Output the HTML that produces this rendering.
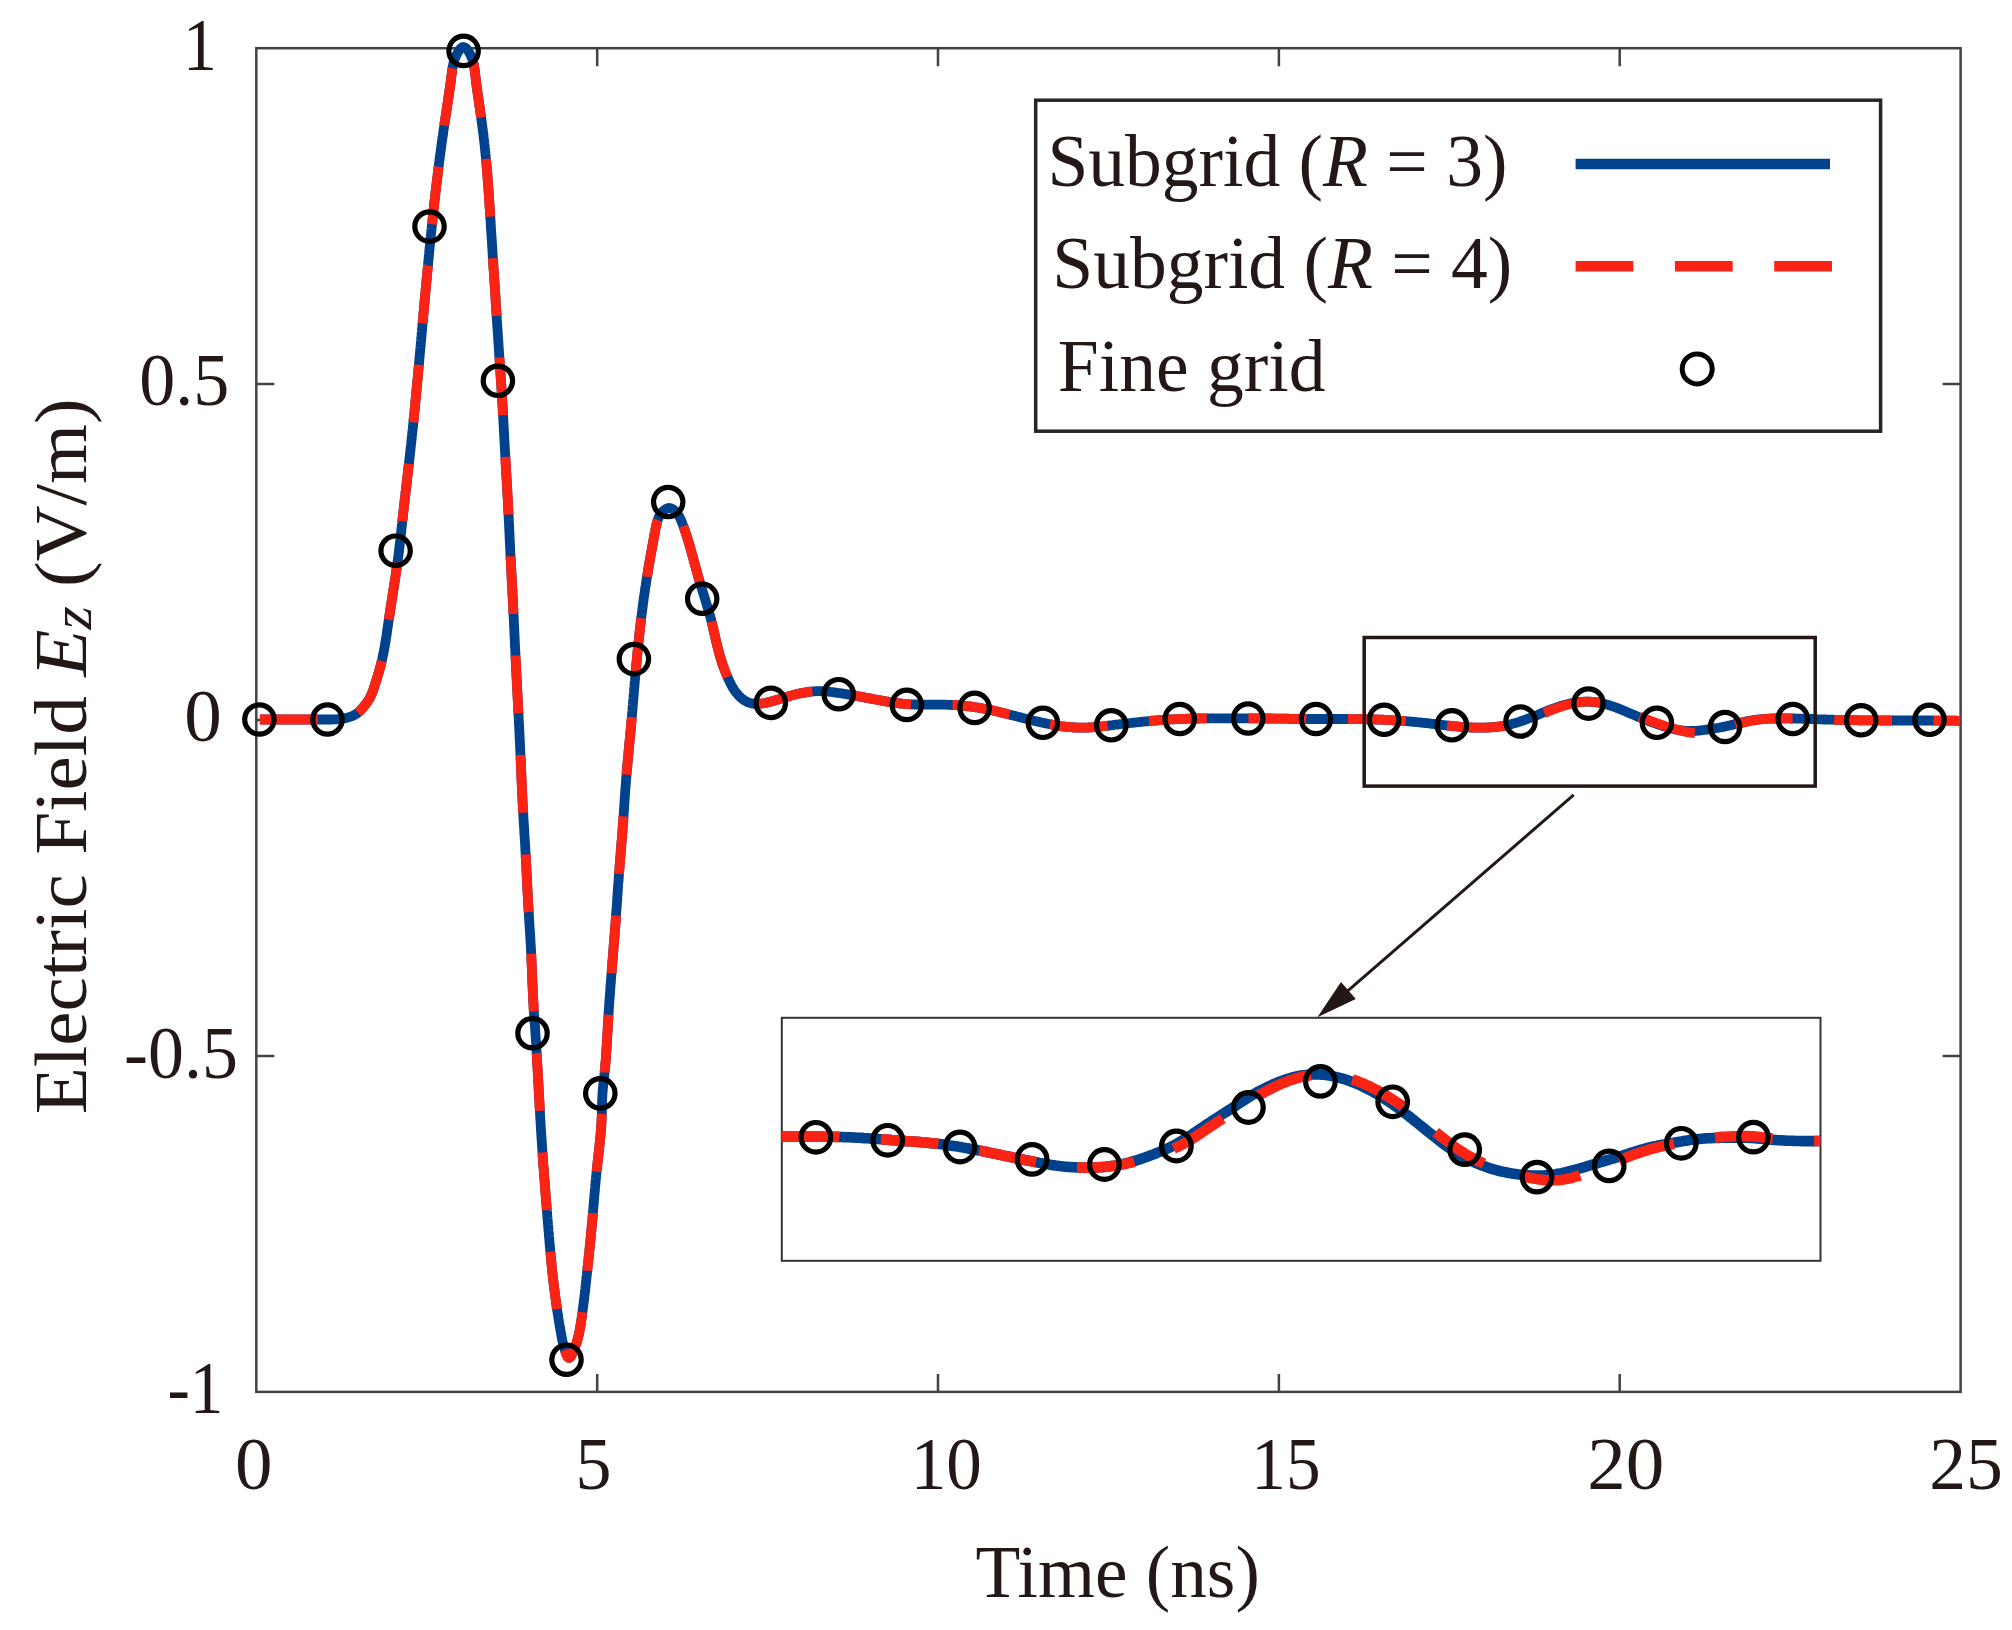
<!DOCTYPE html>
<html lang="en"><head><meta charset="utf-8"><title>Electric Field Ez vs Time</title>
<style>
html,body{margin:0;padding:0;background:#fff;}
body{width:2012px;height:1630px;overflow:hidden;}
svg{display:block;}
text{font-family:"Liberation Serif","Times New Roman",serif;fill:#231815;}
.it{font-style:italic;}
</style></head><body>
<svg width="2012" height="1630" viewBox="0 0 2012 1630">
<rect width="2012" height="1630" fill="#fff"/>

<rect x="256.3" y="48.2" width="1704.3" height="1343.7" fill="none" stroke="#424242" stroke-width="2.5"/>
<path d="M597.2,1391.9 v-18 M597.2,48.2 v18 M938.0,1391.9 v-18 M938.0,48.2 v18 M1278.9,1391.9 v-18 M1278.9,48.2 v18 M1619.7,1391.9 v-18 M1619.7,48.2 v18 M256.3,384.1 h18 M1960.6,384.1 h-18 M256.3,720.05 h18 M1960.6,720.05 h-18 M256.3,1056.0 h18 M1960.6,1056.0 h-18" stroke="#424242" stroke-width="2.5" fill="none"/>
<clipPath id="cp"><rect x="256.3" y="0" width="1704.3" height="1630"/></clipPath>
<g clip-path="url(#cp)" fill="none" stroke-width="9.8" stroke-linejoin="round">
<path d="M259.9,719.5 L261.4,719.5 L262.9,719.5 L264.4,719.5 L265.9,719.5 L267.4,719.5 L268.9,719.5 L270.4,719.5 L271.9,719.5 L273.4,719.5 L274.9,719.5 L276.4,719.5 L277.9,719.5 L279.4,719.5 L280.9,719.5 L282.4,719.5 L283.9,719.5 L285.4,719.5 L286.9,719.5 L288.4,719.5 L289.9,719.5 L291.4,719.5 L292.9,719.5 L294.4,719.5 L295.9,719.5 L297.4,719.5 L298.9,719.5 L300.4,719.5 L301.9,719.5 L303.4,719.5 L304.9,719.5 L306.4,719.5 L307.9,719.5 L309.4,719.5 L310.9,719.5 L312.4,719.5 L313.9,719.5 L315.4,719.5 L316.9,719.5 L318.4,719.5 L319.9,719.5 L321.4,719.5 L322.9,719.5 L324.4,719.5 L325.9,719.5 L327.4,719.5 L328.9,719.5 L330.4,719.5 L331.9,719.5 L333.4,719.4 L334.9,719.4 L336.4,719.3 L337.9,719.2 L339.4,719.1 L340.9,718.9 L342.4,718.7 L343.8,718.4 L345.3,718.2 L346.8,717.8 L348.2,717.4 L349.7,717.0 L351.1,716.5 L352.5,715.9 L353.9,715.3 L355.2,714.5 L356.5,713.7 L357.7,712.9 L358.8,711.9 L359.9,710.9 L361.0,709.8 L362.0,708.7 L363.0,707.5 L363.9,706.4 L364.9,705.2 L365.8,704.0 L366.7,702.8 L367.6,701.6 L368.4,700.3 L369.2,699.1 L369.9,697.8 L370.6,696.4 L371.2,695.1 L371.8,693.7 L372.3,692.3 L372.9,690.9 L373.4,689.5 L373.9,688.0 L374.3,686.6 L374.8,685.2 L375.2,683.7 L375.7,682.3 L376.1,680.8 L376.6,679.4 L377.0,678.0 L377.5,676.5 L377.9,675.1 L378.3,673.7 L378.8,672.2 L379.2,670.8 L379.6,669.3 L380.0,667.9 L380.4,666.5 L380.8,665.0 L381.1,663.6 L381.5,662.1 L381.8,660.7 L382.2,659.2 L382.5,657.7 L382.8,656.3 L383.1,654.8 L383.4,653.3 L383.7,651.9 L384.0,650.4 L384.3,648.9 L384.5,647.5 L384.8,646.0 L385.0,644.5 L385.3,643.0 L385.5,641.5 L385.8,640.0 L386.0,638.6 L386.2,637.1 L386.5,635.6 L386.7,634.1 L386.9,632.6 L387.1,631.1 L387.3,629.6 L387.5,628.2 L387.8,626.7 L388.0,625.2 L388.2,623.7 L388.4,622.2 L388.6,620.7 L388.9,619.2 L389.1,617.7 L389.3,616.3 L389.5,614.8 L389.8,613.3 L390.0,611.8 L390.2,610.3 L390.4,608.8 L390.7,607.3 L390.9,605.9 L391.1,604.4 L391.4,602.9 L391.6,601.4 L391.8,599.9 L392.0,598.4 L392.3,597.0 L392.5,595.5 L392.7,594.0 L393.0,592.5 L393.2,591.0 L393.4,589.6 L393.7,588.1 L393.9,586.6 L394.1,585.1 L394.4,583.6 L394.6,582.1 L394.8,580.7 L395.0,579.2 L395.3,577.7 L395.5,576.2 L395.7,574.7 L395.9,573.2 L396.1,571.8 L396.3,570.3 L396.6,568.8 L396.8,567.3 L397.0,565.8 L397.2,564.3 L397.4,562.9 L397.6,561.4 L397.8,559.9 L398.0,558.4 L398.2,556.9 L398.4,555.4 L398.6,554.0 L398.8,552.5 L399.0,551.0 L399.1,549.5 L399.3,548.0 L399.5,546.5 L399.7,545.0 L399.9,543.5 L400.0,542.0 L400.2,540.6 L400.4,539.1 L400.5,537.6 L400.7,536.1 L400.9,534.6 L401.0,533.1 L401.2,531.6 L401.3,530.1 L401.5,528.6 L401.7,527.1 L401.8,525.6 L402.0,524.1 L402.2,522.7 L402.3,521.2 L402.5,519.7 L402.7,518.2 L402.8,516.7 L403.0,515.2 L403.2,513.7 L403.3,512.2 L403.5,510.7 L403.7,509.2 L403.8,507.7 L404.0,506.3 L404.2,504.8 L404.3,503.3 L404.5,501.8 L404.7,500.3 L404.8,498.8 L405.0,497.3 L405.2,495.8 L405.4,494.3 L405.5,492.8 L405.7,491.4 L405.9,489.9 L406.0,488.4 L406.2,486.9 L406.4,485.4 L406.6,483.9 L406.7,482.4 L406.9,480.9 L407.1,479.4 L407.2,477.9 L407.4,476.5 L407.6,475.0 L407.8,473.5 L407.9,472.0 L408.1,470.5 L408.3,469.0 L408.4,467.5 L408.6,466.0 L408.8,464.5 L409.0,463.0 L409.1,461.6 L409.3,460.1 L409.5,458.6 L409.6,457.1 L409.8,455.6 L410.0,454.1 L410.1,452.6 L410.3,451.1 L410.5,449.6 L410.6,448.1 L410.8,446.6 L411.0,445.2 L411.1,443.7 L411.3,442.2 L411.4,440.7 L411.6,439.2 L411.8,437.7 L411.9,436.2 L412.1,434.7 L412.2,433.2 L412.4,431.7 L412.6,430.2 L412.7,428.7 L412.9,427.3 L413.0,425.8 L413.2,424.3 L413.3,422.8 L413.5,421.3 L413.6,419.8 L413.8,418.3 L413.9,416.8 L414.1,415.3 L414.2,413.8 L414.4,412.3 L414.5,410.8 L414.7,409.4 L414.8,407.9 L415.0,406.4 L415.1,404.9 L415.3,403.4 L415.4,401.9 L415.5,400.4 L415.7,398.9 L415.8,397.4 L416.0,395.9 L416.1,394.4 L416.3,392.9 L416.4,391.4 L416.5,389.9 L416.7,388.4 L416.8,386.9 L417.0,385.5 L417.1,384.0 L417.2,382.5 L417.4,381.0 L417.5,379.5 L417.7,378.0 L417.8,376.5 L417.9,375.0 L418.1,373.5 L418.2,372.0 L418.3,370.5 L418.5,369.0 L418.6,367.5 L418.8,366.0 L418.9,364.5 L419.0,363.0 L419.2,361.5 L419.3,360.0 L419.4,358.5 L419.6,357.0 L419.7,355.5 L419.8,354.0 L420.0,352.5 L420.1,351.0 L420.2,349.6 L420.4,348.1 L420.5,346.6 L420.7,345.1 L420.8,343.6 L420.9,342.1 L421.1,340.6 L421.2,339.1 L421.3,337.6 L421.5,336.1 L421.6,334.6 L421.7,333.1 L421.9,331.6 L422.0,330.1 L422.1,328.6 L422.3,327.1 L422.4,325.6 L422.5,324.1 L422.7,322.6 L422.8,321.1 L422.9,319.6 L423.1,318.1 L423.2,316.6 L423.3,315.1 L423.5,313.6 L423.6,312.1 L423.8,310.6 L423.9,309.1 L424.0,307.6 L424.2,306.1 L424.3,304.7 L424.4,303.2 L424.6,301.7 L424.7,300.2 L424.8,298.7 L425.0,297.2 L425.1,295.7 L425.3,294.2 L425.4,292.7 L425.5,291.2 L425.7,289.7 L425.8,288.2 L425.9,286.7 L426.1,285.2 L426.2,283.7 L426.4,282.2 L426.5,280.7 L426.6,279.2 L426.8,277.8 L426.9,276.3 L427.1,274.8 L427.2,273.3 L427.3,271.8 L427.5,270.3 L427.6,268.8 L427.8,267.3 L427.9,265.8 L428.1,264.3 L428.2,262.8 L428.3,261.3 L428.5,259.9 L428.6,258.4 L428.8,256.9 L428.9,255.4 L429.1,253.9 L429.2,252.4 L429.3,250.9 L429.5,249.4 L429.6,247.9 L429.8,246.5 L429.9,245.0 L430.1,243.5 L430.2,242.0 L430.4,240.5 L430.5,239.0 L430.7,237.5 L430.8,236.0 L431.0,234.6 L431.1,233.1 L431.3,231.6 L431.4,230.1 L431.6,228.6 L431.7,227.1 L431.9,225.7 L432.1,224.2 L432.2,222.7 L432.4,221.2 L432.5,219.7 L432.7,218.2 L432.8,216.8 L433.0,215.3 L433.1,213.8 L433.3,212.3 L433.5,210.8 L433.6,209.4 L433.8,207.9 L434.0,206.4 L434.1,204.9 L434.3,203.4 L434.4,202.0 L434.6,200.5 L434.8,199.0 L434.9,197.5 L435.1,196.0 L435.3,194.6 L435.4,193.1 L435.6,191.6 L435.8,190.1 L436.0,188.6 L436.1,187.1 L436.3,185.7 L436.5,184.2 L436.7,182.7 L436.8,181.2 L437.0,179.7 L437.2,178.3 L437.4,176.8 L437.6,175.3 L437.7,173.8 L437.9,172.3 L438.1,170.8 L438.3,169.3 L438.5,167.8 L438.7,166.4 L438.8,164.9 L439.0,163.4 L439.2,161.9 L439.4,160.4 L439.6,158.9 L439.8,157.4 L440.0,155.9 L440.2,154.4 L440.4,152.9 L440.6,151.4 L440.8,149.9 L441.0,148.4 L441.2,146.9 L441.4,145.4 L441.6,143.9 L441.8,142.4 L442.0,140.9 L442.2,139.4 L442.4,137.9 L442.7,136.4 L442.9,134.9 L443.1,133.4 L443.3,131.9 L443.5,130.4 L443.7,128.9 L444.0,127.4 L444.2,125.8 L444.4,124.3 L444.6,122.8 L444.9,121.3 L445.1,119.8 L445.3,118.3 L445.6,116.7 L445.8,115.2 L446.0,113.7 L446.2,112.2 L446.5,110.7 L446.7,109.2 L446.9,107.7 L447.1,106.2 L447.4,104.7 L447.6,103.2 L447.8,101.7 L448.0,100.2 L448.3,98.7 L448.5,97.2 L448.7,95.7 L448.9,94.2 L449.1,92.7 L449.3,91.3 L449.6,89.8 L449.8,88.3 L450.0,86.9 L450.2,85.4 L450.4,84.0 L450.6,82.5 L450.8,81.1 L451.0,79.6 L451.1,78.2 L451.3,76.8 L451.5,75.4 L451.7,74.0 L451.9,72.6 L452.0,71.2 L452.2,69.8 L452.4,68.4 L452.7,67.0 L453.0,65.6 L453.3,64.1 L453.6,62.7 L454.1,61.3 L454.5,59.8 L455.1,58.3 L455.7,56.8 L456.4,55.2 L457.2,53.6 L458.1,52.0 L459.0,50.5 L460.1,49.2 L461.1,48.1 L462.2,47.3 L463.4,47.0 L464.5,47.2 L465.6,47.8 L466.7,48.9 L467.7,50.1 L468.7,51.6 L469.6,53.2 L470.4,54.8 L471.1,56.4 L471.8,57.9 L472.3,59.4 L472.8,60.9 L473.2,62.4 L473.6,63.8 L473.9,65.2 L474.1,66.7 L474.4,68.1 L474.6,69.5 L474.8,70.9 L474.9,72.3 L475.1,73.7 L475.3,75.1 L475.4,76.5 L475.6,77.9 L475.8,79.3 L475.9,80.8 L476.1,82.2 L476.3,83.7 L476.5,85.1 L476.7,86.6 L476.9,88.0 L477.1,89.5 L477.3,91.0 L477.5,92.4 L477.7,93.9 L477.9,95.4 L478.1,96.9 L478.4,98.4 L478.6,99.9 L478.8,101.4 L479.0,102.9 L479.2,104.4 L479.4,105.9 L479.7,107.4 L479.9,108.9 L480.1,110.4 L480.3,111.9 L480.5,113.4 L480.8,114.9 L481.0,116.5 L481.2,118.0 L481.4,119.5 L481.6,121.0 L481.8,122.5 L482.0,124.0 L482.2,125.6 L482.4,127.1 L482.6,128.6 L482.8,130.1 L483.0,131.6 L483.2,133.1 L483.4,134.6 L483.6,136.2 L483.7,137.7 L483.9,139.2 L484.1,140.7 L484.3,142.2 L484.4,143.7 L484.6,145.2 L484.8,146.7 L484.9,148.2 L485.1,149.7 L485.2,151.2 L485.4,152.7 L485.5,154.2 L485.7,155.7 L485.8,157.2 L486.0,158.7 L486.1,160.2 L486.2,161.7 L486.4,163.2 L486.5,164.7 L486.6,166.2 L486.8,167.7 L486.9,169.2 L487.0,170.7 L487.2,172.2 L487.3,173.7 L487.4,175.2 L487.5,176.6 L487.6,178.1 L487.7,179.6 L487.9,181.1 L488.0,182.6 L488.1,184.1 L488.2,185.6 L488.3,187.1 L488.4,188.6 L488.5,190.1 L488.6,191.5 L488.7,193.0 L488.8,194.5 L488.9,196.0 L489.0,197.5 L489.1,199.0 L489.2,200.5 L489.3,202.0 L489.4,203.4 L489.5,204.9 L489.6,206.4 L489.7,207.9 L489.8,209.4 L489.9,210.9 L490.0,212.4 L490.1,213.9 L490.2,215.3 L490.3,216.8 L490.4,218.3 L490.5,219.8 L490.6,221.3 L490.7,222.8 L490.8,224.3 L490.8,225.8 L490.9,227.3 L491.0,228.7 L491.1,230.2 L491.2,231.7 L491.3,233.2 L491.4,234.7 L491.5,236.2 L491.6,237.7 L491.7,239.2 L491.8,240.7 L491.9,242.2 L492.0,243.7 L492.1,245.1 L492.2,246.6 L492.3,248.1 L492.4,249.6 L492.5,251.1 L492.5,252.6 L492.6,254.1 L492.7,255.6 L492.8,257.1 L492.9,258.6 L493.0,260.1 L493.1,261.6 L493.2,263.1 L493.3,264.6 L493.4,266.1 L493.5,267.6 L493.6,269.1 L493.7,270.6 L493.8,272.1 L493.9,273.6 L494.0,275.0 L494.1,276.5 L494.2,278.0 L494.3,279.5 L494.4,281.0 L494.5,282.5 L494.6,284.0 L494.7,285.5 L494.8,287.0 L494.9,288.5 L495.0,290.0 L495.1,291.5 L495.2,293.0 L495.3,294.5 L495.4,296.0 L495.5,297.5 L495.6,299.0 L495.6,300.5 L495.7,302.0 L495.8,303.5 L495.9,305.0 L496.0,306.5 L496.1,308.0 L496.2,309.5 L496.3,311.0 L496.4,312.5 L496.5,314.0 L496.6,315.5 L496.7,317.0 L496.8,318.5 L496.9,320.0 L497.0,321.5 L497.1,323.0 L497.2,324.5 L497.3,326.0 L497.4,327.5 L497.5,329.0 L497.6,330.5 L497.7,332.0 L497.8,333.5 L497.9,335.0 L498.0,336.5 L498.1,338.0 L498.2,339.5 L498.3,341.0 L498.4,342.5 L498.5,344.0 L498.6,345.5 L498.7,347.0 L498.8,348.5 L498.9,350.0 L499.0,351.5 L499.1,353.0 L499.2,354.5 L499.3,356.0 L499.4,357.5 L499.5,359.0 L499.6,360.5 L499.7,362.0 L499.8,363.5 L499.9,365.0 L500.0,366.5 L500.1,368.0 L500.2,369.5 L500.3,371.0 L500.4,372.5 L500.5,373.9 L500.6,375.4 L500.7,376.9 L500.8,378.4 L500.9,379.9 L501.0,381.4 L501.1,382.9 L501.2,384.4 L501.3,385.9 L501.4,387.4 L501.5,388.9 L501.6,390.4 L501.7,391.9 L501.8,393.4 L501.9,394.9 L501.9,396.4 L502.0,397.9 L502.1,399.4 L502.2,400.9 L502.3,402.4 L502.4,403.9 L502.5,405.4 L502.6,406.9 L502.7,408.4 L502.8,409.9 L502.8,411.4 L502.9,412.9 L503.0,414.4 L503.1,415.9 L503.2,417.4 L503.3,418.9 L503.4,420.4 L503.4,421.9 L503.5,423.3 L503.6,424.8 L503.7,426.3 L503.8,427.8 L503.8,429.3 L503.9,430.8 L504.0,432.3 L504.1,433.8 L504.2,435.3 L504.2,436.8 L504.3,438.3 L504.4,439.8 L504.5,441.3 L504.6,442.8 L504.6,444.3 L504.7,445.8 L504.8,447.3 L504.9,448.8 L505.0,450.3 L505.0,451.8 L505.1,453.3 L505.2,454.8 L505.3,456.3 L505.4,457.8 L505.5,459.3 L505.5,460.8 L505.6,462.3 L505.7,463.8 L505.8,465.3 L505.9,466.8 L506.0,468.3 L506.1,469.8 L506.1,471.3 L506.2,472.8 L506.3,474.3 L506.4,475.8 L506.5,477.3 L506.6,478.8 L506.7,480.3 L506.8,481.8 L506.8,483.3 L506.9,484.8 L507.0,486.3 L507.1,487.8 L507.2,489.2 L507.3,490.7 L507.4,492.2 L507.4,493.7 L507.5,495.2 L507.6,496.7 L507.7,498.2 L507.8,499.7 L507.9,501.2 L507.9,502.7 L508.0,504.2 L508.1,505.7 L508.2,507.2 L508.2,508.7 L508.3,510.2 L508.4,511.7 L508.5,513.2 L508.6,514.7 L508.6,516.2 L508.7,517.7 L508.8,519.2 L508.8,520.7 L508.9,522.2 L509.0,523.7 L509.1,525.2 L509.1,526.7 L509.2,528.2 L509.3,529.7 L509.3,531.2 L509.4,532.7 L509.5,534.2 L509.5,535.7 L509.6,537.2 L509.7,538.7 L509.7,540.2 L509.8,541.7 L509.9,543.2 L510.0,544.7 L510.0,546.2 L510.1,547.7 L510.2,549.2 L510.2,550.7 L510.3,552.2 L510.4,553.7 L510.5,555.2 L510.5,556.7 L510.6,558.2 L510.7,559.7 L510.8,561.2 L510.8,562.7 L510.9,564.2 L511.0,565.7 L511.1,567.2 L511.2,568.6 L511.2,570.1 L511.3,571.6 L511.4,573.1 L511.5,574.6 L511.6,576.1 L511.6,577.6 L511.7,579.1 L511.8,580.6 L511.9,582.1 L512.0,583.6 L512.0,585.1 L512.1,586.6 L512.2,588.1 L512.3,589.6 L512.4,591.1 L512.4,592.6 L512.5,594.1 L512.6,595.6 L512.7,597.1 L512.8,598.6 L512.8,600.1 L512.9,601.6 L513.0,603.1 L513.1,604.6 L513.1,606.1 L513.2,607.6 L513.3,609.1 L513.4,610.6 L513.4,612.1 L513.5,613.6 L513.6,615.1 L513.7,616.6 L513.7,618.1 L513.8,619.6 L513.9,621.1 L513.9,622.6 L514.0,624.1 L514.1,625.6 L514.2,627.1 L514.2,628.6 L514.3,630.1 L514.4,631.6 L514.4,633.1 L514.5,634.6 L514.6,636.1 L514.6,637.6 L514.7,639.1 L514.8,640.6 L514.8,642.1 L514.9,643.6 L515.0,645.1 L515.0,646.6 L515.1,648.1 L515.2,649.5 L515.3,651.0 L515.3,652.5 L515.4,654.0 L515.5,655.5 L515.5,657.0 L515.6,658.5 L515.7,660.0 L515.8,661.5 L515.8,663.0 L515.9,664.5 L516.0,666.0 L516.1,667.5 L516.1,669.0 L516.2,670.5 L516.3,672.0 L516.4,673.5 L516.4,675.0 L516.5,676.5 L516.6,678.0 L516.7,679.5 L516.8,681.0 L516.8,682.5 L516.9,684.0 L517.0,685.5 L517.1,687.0 L517.1,688.5 L517.2,690.0 L517.3,691.5 L517.4,693.0 L517.5,694.5 L517.5,696.0 L517.6,697.5 L517.7,699.0 L517.8,700.5 L517.9,702.0 L517.9,703.5 L518.0,705.0 L518.1,706.5 L518.2,708.0 L518.2,709.5 L518.3,711.0 L518.4,712.5 L518.5,714.0 L518.6,715.5 L518.6,717.0 L518.7,718.5 L518.8,720.0 L518.9,721.5 L518.9,723.0 L519.0,724.5 L519.1,725.9 L519.2,727.4 L519.2,728.9 L519.3,730.4 L519.4,731.9 L519.5,733.4 L519.5,734.9 L519.6,736.4 L519.7,737.9 L519.7,739.4 L519.8,740.9 L519.9,742.4 L520.0,743.9 L520.0,745.4 L520.1,746.9 L520.2,748.4 L520.2,749.9 L520.3,751.4 L520.4,752.9 L520.4,754.4 L520.5,755.9 L520.6,757.4 L520.6,758.9 L520.7,760.4 L520.8,761.9 L520.8,763.4 L520.9,764.9 L521.0,766.4 L521.0,767.9 L521.1,769.4 L521.2,770.9 L521.2,772.4 L521.3,773.9 L521.4,775.4 L521.4,776.9 L521.5,778.4 L521.5,779.9 L521.6,781.4 L521.7,782.9 L521.8,784.4 L521.8,785.9 L521.9,787.4 L522.0,788.9 L522.0,790.4 L522.1,791.9 L522.2,793.4 L522.2,794.9 L522.3,796.4 L522.4,797.9 L522.5,799.4 L522.5,800.9 L522.6,802.4 L522.7,803.9 L522.8,805.4 L522.9,806.9 L522.9,808.4 L523.0,809.9 L523.1,811.4 L523.2,812.9 L523.3,814.4 L523.4,815.8 L523.4,817.3 L523.5,818.8 L523.6,820.3 L523.7,821.8 L523.8,823.3 L523.9,824.8 L524.0,826.3 L524.1,827.8 L524.2,829.3 L524.3,830.8 L524.3,832.3 L524.4,833.8 L524.5,835.3 L524.6,836.8 L524.7,838.3 L524.8,839.8 L524.9,841.3 L525.0,842.8 L525.1,844.3 L525.2,845.8 L525.2,847.3 L525.3,848.8 L525.4,850.3 L525.5,851.8 L525.6,853.3 L525.7,854.8 L525.7,856.3 L525.8,857.8 L525.9,859.3 L526.0,860.8 L526.1,862.3 L526.1,863.8 L526.2,865.3 L526.3,866.8 L526.4,868.3 L526.4,869.8 L526.5,871.3 L526.6,872.8 L526.7,874.3 L526.7,875.8 L526.8,877.2 L526.9,878.7 L527.0,880.2 L527.0,881.7 L527.1,883.2 L527.2,884.7 L527.3,886.2 L527.3,887.7 L527.4,889.2 L527.5,890.7 L527.6,892.2 L527.7,893.7 L527.7,895.2 L527.8,896.7 L527.9,898.2 L528.0,899.7 L528.1,901.2 L528.1,902.7 L528.2,904.2 L528.3,905.7 L528.4,907.2 L528.5,908.7 L528.6,910.2 L528.7,911.7 L528.8,913.2 L528.8,914.7 L528.9,916.2 L529.0,917.7 L529.1,919.2 L529.2,920.7 L529.3,922.2 L529.4,923.7 L529.5,925.2 L529.6,926.7 L529.7,928.2 L529.8,929.7 L529.9,931.2 L530.0,932.7 L530.1,934.2 L530.2,935.7 L530.3,937.2 L530.4,938.6 L530.4,940.1 L530.5,941.6 L530.6,943.1 L530.7,944.6 L530.8,946.1 L530.9,947.6 L531.0,949.1 L531.0,950.6 L531.1,952.1 L531.2,953.6 L531.3,955.1 L531.3,956.6 L531.4,958.1 L531.5,959.6 L531.5,961.1 L531.6,962.6 L531.7,964.1 L531.7,965.6 L531.8,967.1 L531.9,968.6 L531.9,970.1 L532.0,971.6 L532.0,973.1 L532.1,974.6 L532.2,976.1 L532.2,977.6 L532.3,979.1 L532.3,980.6 L532.4,982.1 L532.5,983.6 L532.5,985.1 L532.6,986.6 L532.7,988.1 L532.7,989.6 L532.8,991.1 L532.9,992.6 L532.9,994.1 L533.0,995.6 L533.1,997.1 L533.2,998.6 L533.2,1000.1 L533.3,1001.6 L533.4,1003.1 L533.5,1004.6 L533.6,1006.1 L533.6,1007.6 L533.7,1009.1 L533.8,1010.6 L533.9,1012.1 L534.0,1013.6 L534.1,1015.1 L534.2,1016.5 L534.3,1018.0 L534.4,1019.5 L534.5,1021.0 L534.6,1022.5 L534.8,1024.0 L534.9,1025.5 L535.0,1027.0 L535.1,1028.5 L535.2,1030.0 L535.3,1031.5 L535.4,1033.0 L535.5,1034.5 L535.6,1036.0 L535.7,1037.5 L535.8,1039.0 L535.9,1040.5 L536.0,1042.0 L536.1,1043.5 L536.2,1045.0 L536.3,1046.5 L536.4,1048.0 L536.5,1049.5 L536.5,1051.0 L536.6,1052.5 L536.7,1054.0 L536.8,1055.5 L536.9,1057.0 L537.0,1058.5 L537.1,1060.0 L537.2,1061.5 L537.2,1062.9 L537.3,1064.4 L537.4,1065.9 L537.5,1067.4 L537.6,1068.9 L537.7,1070.4 L537.8,1071.9 L537.8,1073.4 L537.9,1074.9 L538.0,1076.4 L538.1,1077.9 L538.2,1079.4 L538.2,1080.9 L538.3,1082.4 L538.4,1083.9 L538.5,1085.4 L538.6,1086.9 L538.6,1088.4 L538.7,1089.9 L538.8,1091.4 L538.9,1092.9 L539.0,1094.4 L539.0,1095.9 L539.1,1097.4 L539.2,1098.9 L539.3,1100.4 L539.4,1101.9 L539.5,1103.4 L539.5,1104.9 L539.6,1106.4 L539.7,1107.9 L539.8,1109.4 L539.9,1110.9 L540.0,1112.4 L540.0,1113.9 L540.1,1115.4 L540.2,1116.9 L540.3,1118.4 L540.4,1119.9 L540.5,1121.4 L540.6,1122.9 L540.7,1124.4 L540.7,1125.9 L540.8,1127.4 L540.9,1128.9 L541.0,1130.3 L541.1,1131.8 L541.2,1133.3 L541.3,1134.8 L541.4,1136.3 L541.5,1137.8 L541.6,1139.3 L541.7,1140.8 L541.8,1142.3 L541.9,1143.8 L542.0,1145.3 L542.1,1146.8 L542.2,1148.3 L542.3,1149.8 L542.4,1151.3 L542.5,1152.8 L542.6,1154.3 L542.7,1155.8 L542.8,1157.3 L542.9,1158.8 L543.0,1160.3 L543.1,1161.8 L543.2,1163.3 L543.3,1164.8 L543.4,1166.3 L543.6,1167.7 L543.7,1169.2 L543.8,1170.7 L543.9,1172.2 L544.0,1173.7 L544.1,1175.2 L544.2,1176.7 L544.3,1178.2 L544.5,1179.7 L544.6,1181.2 L544.7,1182.7 L544.8,1184.2 L544.9,1185.7 L545.0,1187.2 L545.2,1188.7 L545.3,1190.2 L545.4,1191.7 L545.5,1193.2 L545.6,1194.7 L545.7,1196.2 L545.9,1197.7 L546.0,1199.2 L546.1,1200.7 L546.2,1202.1 L546.3,1203.6 L546.5,1205.1 L546.6,1206.6 L546.7,1208.1 L546.8,1209.6 L546.9,1211.1 L547.1,1212.6 L547.2,1214.1 L547.3,1215.6 L547.4,1217.1 L547.5,1218.6 L547.7,1220.1 L547.8,1221.6 L547.9,1223.1 L548.0,1224.6 L548.2,1226.1 L548.3,1227.6 L548.4,1229.1 L548.5,1230.6 L548.7,1232.1 L548.8,1233.6 L548.9,1235.1 L549.0,1236.6 L549.2,1238.1 L549.3,1239.6 L549.4,1241.1 L549.5,1242.5 L549.7,1244.0 L549.8,1245.5 L549.9,1247.0 L550.1,1248.5 L550.2,1250.0 L550.3,1251.4 L550.5,1252.9 L550.6,1254.4 L550.7,1255.9 L550.9,1257.4 L551.0,1258.8 L551.2,1260.3 L551.3,1261.8 L551.4,1263.3 L551.6,1264.7 L551.7,1266.2 L551.9,1267.7 L552.0,1269.2 L552.2,1270.7 L552.3,1272.1 L552.5,1273.6 L552.7,1275.1 L552.8,1276.6 L553.0,1278.1 L553.2,1279.6 L553.3,1281.0 L553.5,1282.5 L553.7,1284.0 L553.8,1285.5 L554.0,1287.0 L554.2,1288.5 L554.4,1290.0 L554.6,1291.5 L554.8,1293.0 L555.0,1294.5 L555.2,1296.0 L555.4,1297.5 L555.6,1299.0 L555.8,1300.5 L556.0,1302.1 L556.2,1303.6 L556.4,1305.1 L556.6,1306.6 L556.9,1308.2 L557.1,1309.7 L557.3,1311.2 L557.6,1312.8 L557.8,1314.3 L558.1,1315.8 L558.3,1317.4 L558.5,1318.9 L558.8,1320.4 L559.0,1321.9 L559.3,1323.4 L559.5,1324.9 L559.8,1326.4 L560.0,1327.8 L560.3,1329.3 L560.5,1330.7 L560.8,1332.1 L561.0,1333.5 L561.3,1334.9 L561.5,1336.2 L561.8,1337.5 L562.0,1338.9 L562.3,1340.2 L562.5,1341.5 L562.9,1342.9 L563.2,1344.3 L563.6,1345.8 L564.0,1347.3 L564.5,1348.9 L565.0,1350.5 L565.6,1352.3 L566.3,1354.1 L567.0,1355.8 L567.8,1357.1 L568.6,1357.9 L569.4,1357.9 L570.3,1357.2 L571.2,1355.9 L572.0,1354.3 L572.8,1352.5 L573.5,1350.8 L574.2,1349.1 L574.8,1347.6 L575.4,1346.1 L575.9,1344.7 L576.4,1343.3 L576.8,1342.0 L577.2,1340.6 L577.6,1339.4 L577.9,1338.0 L578.2,1336.7 L578.6,1335.4 L578.9,1334.0 L579.2,1332.6 L579.5,1331.2 L579.7,1329.7 L580.0,1328.3 L580.3,1326.8 L580.5,1325.3 L580.8,1323.8 L581.0,1322.2 L581.2,1320.7 L581.5,1319.2 L581.7,1317.6 L581.9,1316.1 L582.1,1314.6 L582.3,1313.1 L582.5,1311.6 L582.7,1310.0 L582.9,1308.5 L583.1,1307.0 L583.3,1305.5 L583.5,1304.0 L583.7,1302.5 L583.9,1301.0 L584.1,1299.5 L584.2,1298.1 L584.4,1296.6 L584.6,1295.1 L584.8,1293.6 L584.9,1292.1 L585.1,1290.6 L585.3,1289.2 L585.4,1287.7 L585.6,1286.2 L585.7,1284.7 L585.9,1283.3 L586.1,1281.8 L586.2,1280.3 L586.4,1278.8 L586.5,1277.4 L586.7,1275.9 L586.9,1274.4 L587.0,1272.9 L587.2,1271.5 L587.3,1270.0 L587.5,1268.5 L587.6,1267.0 L587.8,1265.5 L588.0,1264.0 L588.1,1262.5 L588.3,1261.1 L588.4,1259.6 L588.6,1258.1 L588.7,1256.6 L588.9,1255.1 L589.0,1253.6 L589.2,1252.1 L589.4,1250.6 L589.5,1249.1 L589.7,1247.6 L589.8,1246.1 L590.0,1244.6 L590.1,1243.2 L590.3,1241.7 L590.4,1240.2 L590.6,1238.7 L590.7,1237.2 L590.9,1235.7 L591.0,1234.2 L591.1,1232.7 L591.3,1231.2 L591.4,1229.7 L591.6,1228.2 L591.7,1226.7 L591.8,1225.2 L592.0,1223.7 L592.1,1222.2 L592.3,1220.7 L592.4,1219.2 L592.5,1217.7 L592.7,1216.2 L592.8,1214.7 L592.9,1213.2 L593.0,1211.7 L593.2,1210.2 L593.3,1208.7 L593.4,1207.2 L593.5,1205.7 L593.7,1204.2 L593.8,1202.7 L593.9,1201.2 L594.0,1199.7 L594.2,1198.3 L594.3,1196.8 L594.4,1195.3 L594.5,1193.8 L594.7,1192.3 L594.8,1190.8 L594.9,1189.3 L595.1,1187.8 L595.2,1186.3 L595.3,1184.8 L595.5,1183.3 L595.6,1181.8 L595.7,1180.3 L595.9,1178.8 L596.0,1177.3 L596.2,1175.9 L596.3,1174.4 L596.5,1172.9 L596.6,1171.4 L596.8,1169.9 L597.0,1168.4 L597.1,1166.9 L597.3,1165.4 L597.4,1163.9 L597.6,1162.4 L597.8,1160.9 L597.9,1159.4 L598.1,1158.0 L598.3,1156.5 L598.4,1155.0 L598.6,1153.5 L598.8,1152.0 L598.9,1150.5 L599.1,1149.0 L599.3,1147.5 L599.4,1146.0 L599.6,1144.5 L599.7,1143.0 L599.9,1141.5 L600.0,1140.0 L600.2,1138.6 L600.3,1137.1 L600.5,1135.6 L600.6,1134.1 L600.7,1132.6 L600.8,1131.1 L601.0,1129.6 L601.1,1128.1 L601.2,1126.6 L601.3,1125.1 L601.4,1123.6 L601.5,1122.1 L601.5,1120.6 L601.6,1119.1 L601.7,1117.6 L601.8,1116.1 L601.8,1114.6 L601.9,1113.1 L601.9,1111.6 L601.9,1110.1 L602.0,1108.6 L602.0,1107.1 L602.0,1105.6 L602.1,1104.1 L602.1,1102.6 L602.1,1101.1 L602.2,1099.6 L602.2,1098.1 L602.3,1096.6 L602.4,1095.1 L602.5,1093.6 L602.6,1092.1 L602.7,1090.6 L602.8,1089.1 L603.0,1087.6 L603.1,1086.2 L603.3,1084.7 L603.4,1083.2 L603.6,1081.7 L603.8,1080.2 L603.9,1078.7 L604.1,1077.2 L604.3,1075.7 L604.4,1074.2 L604.6,1072.7 L604.7,1071.2 L604.9,1069.7 L605.0,1068.2 L605.2,1066.8 L605.3,1065.3 L605.4,1063.8 L605.5,1062.3 L605.7,1060.8 L605.8,1059.3 L605.9,1057.8 L606.0,1056.3 L606.1,1054.8 L606.2,1053.3 L606.3,1051.8 L606.4,1050.3 L606.5,1048.8 L606.6,1047.3 L606.7,1045.8 L606.8,1044.3 L606.9,1042.8 L607.0,1041.3 L607.1,1039.8 L607.1,1038.3 L607.2,1036.8 L607.3,1035.3 L607.4,1033.8 L607.5,1032.3 L607.6,1030.8 L607.7,1029.3 L607.7,1027.8 L607.8,1026.3 L607.9,1024.8 L608.0,1023.3 L608.1,1021.8 L608.2,1020.4 L608.3,1018.9 L608.4,1017.4 L608.4,1015.9 L608.5,1014.4 L608.6,1012.9 L608.7,1011.4 L608.8,1009.9 L608.9,1008.4 L609.0,1006.9 L609.1,1005.4 L609.2,1003.9 L609.3,1002.4 L609.4,1000.9 L609.5,999.4 L609.7,997.9 L609.8,996.4 L609.9,994.9 L610.0,993.4 L610.1,991.9 L610.2,990.4 L610.3,988.9 L610.4,987.4 L610.5,985.9 L610.6,984.4 L610.8,982.9 L610.9,981.4 L611.0,979.9 L611.1,978.5 L611.2,977.0 L611.3,975.5 L611.5,974.0 L611.6,972.5 L611.7,971.0 L611.8,969.5 L611.9,968.0 L612.1,966.5 L612.2,965.0 L612.3,963.5 L612.4,962.0 L612.5,960.5 L612.7,959.0 L612.8,957.5 L612.9,956.0 L613.0,954.5 L613.1,953.0 L613.3,951.5 L613.4,950.0 L613.5,948.5 L613.6,947.1 L613.7,945.6 L613.9,944.1 L614.0,942.6 L614.1,941.1 L614.2,939.6 L614.3,938.1 L614.5,936.6 L614.6,935.1 L614.7,933.6 L614.8,932.1 L614.9,930.6 L615.0,929.1 L615.1,927.6 L615.3,926.1 L615.4,924.6 L615.5,923.1 L615.6,921.6 L615.7,920.1 L615.8,918.6 L615.9,917.1 L616.0,915.6 L616.1,914.1 L616.2,912.7 L616.3,911.2 L616.5,909.7 L616.6,908.2 L616.7,906.7 L616.8,905.2 L616.9,903.7 L617.0,902.2 L617.1,900.7 L617.2,899.2 L617.3,897.7 L617.4,896.2 L617.5,894.7 L617.6,893.2 L617.7,891.7 L617.8,890.2 L617.9,888.7 L618.0,887.2 L618.1,885.7 L618.2,884.2 L618.3,882.7 L618.5,881.2 L618.6,879.7 L618.7,878.2 L618.8,876.7 L618.9,875.2 L619.0,873.8 L619.1,872.3 L619.2,870.8 L619.4,869.3 L619.5,867.8 L619.6,866.3 L619.7,864.8 L619.8,863.3 L620.0,861.8 L620.1,860.3 L620.2,858.8 L620.3,857.3 L620.4,855.8 L620.6,854.3 L620.7,852.8 L620.8,851.3 L620.9,849.8 L621.1,848.3 L621.2,846.8 L621.3,845.3 L621.4,843.8 L621.5,842.4 L621.7,840.9 L621.8,839.4 L621.9,837.9 L622.0,836.4 L622.1,834.9 L622.2,833.4 L622.4,831.9 L622.5,830.4 L622.6,828.9 L622.7,827.4 L622.8,825.9 L622.9,824.4 L623.0,822.9 L623.2,821.4 L623.3,819.9 L623.4,818.4 L623.5,816.9 L623.6,815.4 L623.7,813.9 L623.8,812.4 L623.9,810.9 L624.0,809.4 L624.1,807.9 L624.2,806.5 L624.3,805.0 L624.4,803.5 L624.5,802.0 L624.6,800.5 L624.7,799.0 L624.8,797.5 L624.9,796.0 L625.0,794.5 L625.1,793.0 L625.2,791.5 L625.3,790.0 L625.4,788.5 L625.6,787.0 L625.7,785.5 L625.8,784.0 L625.9,782.5 L626.0,781.0 L626.1,779.5 L626.2,778.0 L626.4,776.5 L626.5,775.0 L626.6,773.5 L626.7,772.0 L626.9,770.6 L627.0,769.1 L627.1,767.6 L627.3,766.1 L627.4,764.6 L627.5,763.1 L627.7,761.6 L627.8,760.1 L627.9,758.6 L628.1,757.1 L628.2,755.6 L628.4,754.1 L628.5,752.6 L628.6,751.1 L628.8,749.6 L628.9,748.1 L629.1,746.7 L629.2,745.2 L629.3,743.7 L629.5,742.2 L629.6,740.7 L629.8,739.2 L629.9,737.7 L630.1,736.2 L630.2,734.7 L630.3,733.2 L630.5,731.7 L630.6,730.2 L630.8,728.7 L630.9,727.2 L631.0,725.7 L631.2,724.3 L631.3,722.8 L631.4,721.3 L631.6,719.8 L631.7,718.3 L631.8,716.8 L632.0,715.3 L632.1,713.8 L632.2,712.3 L632.4,710.8 L632.5,709.3 L632.6,707.8 L632.7,706.3 L632.9,704.8 L633.0,703.3 L633.1,701.8 L633.2,700.3 L633.4,698.8 L633.5,697.3 L633.6,695.9 L633.7,694.4 L633.9,692.9 L634.0,691.4 L634.1,689.9 L634.2,688.4 L634.4,686.9 L634.5,685.4 L634.6,683.9 L634.7,682.4 L634.9,680.9 L635.0,679.4 L635.1,677.9 L635.3,676.4 L635.4,674.9 L635.5,673.4 L635.7,671.9 L635.8,670.5 L635.9,669.0 L636.1,667.5 L636.2,666.0 L636.3,664.5 L636.5,663.0 L636.6,661.5 L636.8,660.0 L636.9,658.5 L637.0,657.0 L637.2,655.5 L637.3,654.0 L637.5,652.5 L637.6,651.0 L637.8,649.6 L637.9,648.1 L638.1,646.6 L638.2,645.1 L638.4,643.6 L638.5,642.1 L638.7,640.6 L638.9,639.1 L639.0,637.6 L639.2,636.1 L639.3,634.6 L639.5,633.1 L639.7,631.6 L639.8,630.2 L640.0,628.7 L640.2,627.2 L640.3,625.7 L640.5,624.2 L640.7,622.7 L640.9,621.2 L641.0,619.7 L641.2,618.2 L641.4,616.7 L641.6,615.2 L641.8,613.7 L642.0,612.3 L642.2,610.8 L642.3,609.3 L642.5,607.8 L642.7,606.3 L642.9,604.8 L643.1,603.3 L643.3,601.8 L643.5,600.3 L643.7,598.9 L643.9,597.4 L644.1,595.9 L644.4,594.4 L644.6,592.9 L644.8,591.4 L645.0,590.0 L645.2,588.5 L645.4,587.0 L645.7,585.5 L645.9,584.0 L646.1,582.6 L646.3,581.1 L646.6,579.6 L646.8,578.1 L647.0,576.7 L647.3,575.2 L647.5,573.7 L647.8,572.2 L648.0,570.8 L648.2,569.3 L648.5,567.8 L648.7,566.4 L649.0,564.9 L649.2,563.4 L649.5,562.0 L649.7,560.5 L650.0,559.0 L650.3,557.5 L650.5,556.1 L650.8,554.6 L651.1,553.1 L651.3,551.6 L651.6,550.2 L651.9,548.7 L652.1,547.2 L652.4,545.7 L652.7,544.3 L652.9,542.8 L653.2,541.3 L653.5,539.8 L653.8,538.3 L654.0,536.8 L654.3,535.4 L654.6,533.9 L654.9,532.4 L655.2,530.9 L655.4,529.4 L655.7,527.9 L656.0,526.4 L656.3,524.9 L656.7,523.4 L657.1,521.9 L657.5,520.5 L658.0,519.1 L658.6,517.7 L659.2,516.3 L660.0,515.0 L660.8,513.7 L661.8,512.5 L662.8,511.3 L664.1,510.3 L665.4,509.3 L666.7,508.6 L668.1,508.1 L669.5,508.0 L670.9,508.3 L672.3,508.9 L673.6,509.7 L674.8,510.8 L675.9,511.9 L677.0,513.1 L677.9,514.4 L678.7,515.7 L679.5,517.0 L680.2,518.3 L680.8,519.6 L681.4,521.0 L681.9,522.4 L682.5,523.8 L683.0,525.2 L683.5,526.5 L684.0,527.9 L684.5,529.3 L685.0,530.8 L685.4,532.2 L685.9,533.6 L686.4,535.0 L686.8,536.4 L687.3,537.8 L687.7,539.3 L688.2,540.7 L688.6,542.1 L689.0,543.6 L689.5,545.0 L689.9,546.5 L690.3,547.9 L690.7,549.3 L691.1,550.8 L691.5,552.2 L691.9,553.7 L692.3,555.1 L692.7,556.6 L693.1,558.0 L693.5,559.5 L693.9,560.9 L694.3,562.4 L694.7,563.9 L695.1,565.3 L695.5,566.8 L695.9,568.2 L696.3,569.7 L696.7,571.1 L697.1,572.6 L697.5,574.0 L697.9,575.5 L698.3,576.9 L698.7,578.4 L699.2,579.8 L699.6,581.3 L700.0,582.7 L700.4,584.1 L700.9,585.6 L701.3,587.0 L701.8,588.5 L702.2,589.9 L702.6,591.3 L703.1,592.8 L703.5,594.2 L704.0,595.6 L704.4,597.1 L704.9,598.5 L705.3,599.9 L705.7,601.4 L706.2,602.8 L706.6,604.2 L707.0,605.7 L707.5,607.1 L707.9,608.5 L708.3,610.0 L708.7,611.4 L709.2,612.9 L709.6,614.3 L710.0,615.7 L710.4,617.2 L710.8,618.6 L711.1,620.1 L711.5,621.5 L711.9,623.0 L712.2,624.4 L712.6,625.9 L712.9,627.4 L713.3,628.8 L713.6,630.3 L714.0,631.7 L714.3,633.2 L714.6,634.7 L715.0,636.1 L715.3,637.6 L715.6,639.1 L716.0,640.5 L716.3,642.0 L716.7,643.4 L717.0,644.9 L717.4,646.4 L717.7,647.8 L718.1,649.3 L718.5,650.7 L718.9,652.2 L719.3,653.6 L719.7,655.1 L720.1,656.5 L720.5,657.9 L721.0,659.4 L721.4,660.8 L721.9,662.2 L722.3,663.6 L722.8,665.1 L723.3,666.5 L723.9,667.9 L724.4,669.3 L724.9,670.7 L725.5,672.1 L726.0,673.5 L726.6,674.9 L727.2,676.3 L727.8,677.6 L728.4,679.0 L729.0,680.4 L729.7,681.7 L730.3,683.1 L731.0,684.4 L731.7,685.8 L732.4,687.1 L733.2,688.4 L734.0,689.6 L734.9,690.9 L735.7,692.1 L736.7,693.3 L737.7,694.4 L738.7,695.6 L739.8,696.7 L740.9,697.7 L742.1,698.7 L743.3,699.6 L744.6,700.5 L745.9,701.2 L747.2,701.9 L748.6,702.5 L750.0,703.0 L751.4,703.4 L752.8,703.6 L754.3,703.8 L755.8,703.9 L757.3,703.9 L758.8,703.9 L760.3,703.7 L761.8,703.5 L763.4,703.3 L764.9,703.0 L766.4,702.7 L767.9,702.3 L769.4,702.0 L770.9,701.6 L772.4,701.2 L773.9,700.7 L775.4,700.3 L776.8,699.9 L778.3,699.5 L779.7,699.0 L781.1,698.6 L782.5,698.2 L784.0,697.7 L785.4,697.3 L786.8,696.9 L788.2,696.4 L789.7,696.0 L791.1,695.6 L792.5,695.2 L794.0,694.8 L795.4,694.5 L796.9,694.1 L798.3,693.8 L799.8,693.4 L801.3,693.1 L802.8,692.8 L804.3,692.6 L805.7,692.3 L807.2,692.1 L808.7,691.9 L810.2,691.7 L811.7,691.5 L813.2,691.4 L814.7,691.3 L816.2,691.2 L817.7,691.2 L819.2,691.2 L820.7,691.2 L822.2,691.2 L823.7,691.3 L825.2,691.4 L826.7,691.5 L828.2,691.7 L829.7,691.8 L831.2,692.0 L832.7,692.2 L834.2,692.4 L835.7,692.6 L837.1,692.8 L838.6,693.0 L840.1,693.2 L841.6,693.4 L843.1,693.7 L844.6,693.9 L846.1,694.2 L847.5,694.4 L849.0,694.6 L850.5,694.9 L852.0,695.2 L853.4,695.4 L854.9,695.7 L856.4,695.9 L857.9,696.2 L859.3,696.5 L860.8,696.7 L862.3,697.0 L863.8,697.3 L865.2,697.6 L866.7,697.8 L868.2,698.1 L869.7,698.4 L871.1,698.7 L872.6,698.9 L874.1,699.2 L875.6,699.5 L877.0,699.8 L878.5,700.0 L880.0,700.3 L881.5,700.6 L883.0,700.9 L884.4,701.1 L885.9,701.4 L887.4,701.6 L888.9,701.9 L890.4,702.1 L891.8,702.3 L893.3,702.6 L894.8,702.8 L896.3,703.0 L897.8,703.2 L899.3,703.4 L900.8,703.5 L902.3,703.7 L903.7,703.8 L905.2,704.0 L906.7,704.1 L908.2,704.2 L909.7,704.3 L911.2,704.4 L912.7,704.4 L914.2,704.5 L915.7,704.5 L917.2,704.6 L918.7,704.6 L920.2,704.6 L921.7,704.6 L923.2,704.6 L924.7,704.6 L926.2,704.6 L927.7,704.6 L929.2,704.6 L930.7,704.6 L932.2,704.6 L933.7,704.6 L935.2,704.6 L936.7,704.6 L938.2,704.6 L939.7,704.6 L941.2,704.6 L942.7,704.7 L944.2,704.7 L945.7,704.7 L947.2,704.8 L948.7,704.8 L950.2,704.9 L951.7,705.0 L953.2,705.0 L954.7,705.1 L956.2,705.2 L957.7,705.3 L959.2,705.4 L960.7,705.5 L962.2,705.7 L963.7,705.8 L965.2,705.9 L966.7,706.1 L968.2,706.3 L969.7,706.4 L971.2,706.6 L972.7,706.8 L974.1,707.0 L975.6,707.3 L977.1,707.5 L978.6,707.7 L980.1,708.0 L981.5,708.2 L983.0,708.5 L984.5,708.8 L986.0,709.1 L987.4,709.4 L988.9,709.7 L990.4,710.0 L991.8,710.3 L993.3,710.6 L994.8,711.0 L996.2,711.3 L997.7,711.6 L999.2,712.0 L1000.6,712.3 L1002.1,712.7 L1003.5,713.1 L1005.0,713.4 L1006.4,713.8 L1007.9,714.2 L1009.3,714.5 L1010.8,714.9 L1012.3,715.3 L1013.7,715.6 L1015.2,716.0 L1016.6,716.4 L1018.1,716.8 L1019.5,717.1 L1021.0,717.5 L1022.4,717.9 L1023.9,718.2 L1025.3,718.6 L1026.8,719.0 L1028.2,719.3 L1029.7,719.7 L1031.1,720.1 L1032.6,720.4 L1034.1,720.8 L1035.5,721.1 L1037.0,721.5 L1038.4,721.8 L1039.9,722.1 L1041.4,722.5 L1042.8,722.8 L1044.3,723.1 L1045.8,723.4 L1047.3,723.7 L1048.7,724.0 L1050.2,724.3 L1051.7,724.6 L1053.2,724.9 L1054.7,725.1 L1056.2,725.4 L1057.6,725.6 L1059.1,725.8 L1060.6,726.1 L1062.1,726.3 L1063.6,726.5 L1065.1,726.6 L1066.6,726.8 L1068.1,727.0 L1069.6,727.1 L1071.1,727.2 L1072.6,727.4 L1074.1,727.5 L1075.6,727.5 L1077.1,727.6 L1078.6,727.7 L1080.0,727.7 L1081.5,727.7 L1083.0,727.7 L1084.5,727.7 L1086.0,727.6 L1087.5,727.6 L1089.0,727.5 L1090.5,727.4 L1092.0,727.3 L1093.5,727.2 L1095.0,727.1 L1096.5,727.0 L1098.0,726.8 L1099.5,726.7 L1101.0,726.5 L1102.5,726.3 L1104.0,726.2 L1105.5,726.0 L1107.0,725.8 L1108.5,725.6 L1109.9,725.5 L1111.4,725.3 L1112.9,725.1 L1114.4,724.9 L1115.9,724.7 L1117.4,724.6 L1118.9,724.4 L1120.4,724.2 L1121.9,724.0 L1123.4,723.8 L1124.9,723.7 L1126.3,723.5 L1127.8,723.3 L1129.3,723.2 L1130.8,723.0 L1132.3,722.8 L1133.8,722.6 L1135.3,722.5 L1136.8,722.3 L1138.3,722.2 L1139.8,722.0 L1141.2,721.9 L1142.7,721.7 L1144.2,721.6 L1145.7,721.4 L1147.2,721.3 L1148.7,721.1 L1150.2,721.0 L1151.7,720.9 L1153.2,720.7 L1154.7,720.6 L1156.2,720.5 L1157.7,720.4 L1159.2,720.2 L1160.7,720.1 L1162.2,720.0 L1163.7,719.9 L1165.2,719.8 L1166.7,719.7 L1168.2,719.6 L1169.6,719.5 L1171.1,719.4 L1172.6,719.3 L1174.1,719.3 L1175.6,719.2 L1177.1,719.1 L1178.6,719.0 L1180.1,719.0 L1181.6,718.9 L1183.1,718.9 L1184.6,718.8 L1186.1,718.8 L1187.6,718.7 L1189.1,718.7 L1190.6,718.6 L1192.1,718.6 L1193.6,718.6 L1195.1,718.5 L1196.6,718.5 L1198.1,718.5 L1199.6,718.4 L1201.1,718.4 L1202.6,718.4 L1204.1,718.4 L1205.6,718.4 L1207.1,718.4 L1208.6,718.3 L1210.1,718.3 L1211.6,718.3 L1213.1,718.3 L1214.6,718.3 L1216.1,718.3 L1217.6,718.3 L1219.1,718.3 L1220.6,718.3 L1222.1,718.3 L1223.6,718.3 L1225.1,718.3 L1226.6,718.3 L1228.1,718.3 L1229.6,718.3 L1231.1,718.3 L1232.6,718.3 L1234.1,718.3 L1235.6,718.3 L1237.1,718.3 L1238.6,718.3 L1240.1,718.3 L1241.6,718.3 L1243.1,718.3 L1244.6,718.3 L1246.1,718.3 L1247.6,718.3 L1249.1,718.3 L1250.6,718.3 L1252.1,718.3 L1253.6,718.3 L1255.1,718.4 L1256.6,718.4 L1258.1,718.4 L1259.6,718.4 L1261.1,718.4 L1262.6,718.4 L1264.1,718.4 L1265.6,718.5 L1267.1,718.5 L1268.6,718.5 L1270.1,718.5 L1271.6,718.5 L1273.1,718.6 L1274.6,718.6 L1276.1,718.6 L1277.6,718.6 L1279.1,718.6 L1280.6,718.7 L1282.1,718.7 L1283.6,718.7 L1285.1,718.7 L1286.6,718.7 L1288.1,718.7 L1289.6,718.8 L1291.1,718.8 L1292.6,718.8 L1294.1,718.8 L1295.6,718.8 L1297.1,718.9 L1298.6,718.9 L1300.1,718.9 L1301.6,718.9 L1303.1,718.9 L1304.6,718.9 L1306.1,718.9 L1307.6,719.0 L1309.1,719.0 L1310.6,719.0 L1312.1,719.0 L1313.6,719.0 L1315.1,719.0 L1316.6,719.0 L1318.1,719.0 L1319.6,719.0 L1321.1,719.0 L1322.6,719.0 L1324.1,719.0 L1325.6,719.0 L1327.1,719.0 L1328.6,719.0 L1330.1,719.0 L1331.6,719.0 L1333.1,719.0 L1334.6,719.0 L1336.1,719.0 L1337.6,719.0 L1339.1,719.0 L1340.6,719.0 L1342.1,719.0 L1343.6,719.0 L1345.1,719.0 L1346.6,719.0 L1348.1,719.0 L1349.6,719.0 L1351.1,719.1 L1352.6,719.1 L1354.1,719.1 L1355.6,719.1 L1357.1,719.1 L1358.6,719.1 L1360.1,719.1 L1361.6,719.2 L1363.1,719.2 L1364.6,719.2 L1366.1,719.2 L1367.6,719.3 L1369.1,719.3 L1370.6,719.3 L1372.1,719.4 L1373.6,719.4 L1375.1,719.5 L1376.6,719.5 L1378.1,719.6 L1379.6,719.6 L1381.1,719.7 L1382.6,719.7 L1384.1,719.8 L1385.6,719.9 L1387.1,719.9 L1388.6,720.0 L1390.1,720.1 L1391.6,720.2 L1393.1,720.3 L1394.6,720.4 L1396.1,720.5 L1397.6,720.6 L1399.1,720.7 L1400.6,720.8 L1402.1,720.9 L1403.6,721.0 L1405.1,721.1 L1406.6,721.2 L1408.1,721.3 L1409.6,721.5 L1411.1,721.6 L1412.6,721.7 L1414.0,721.9 L1415.5,722.0 L1417.0,722.2 L1418.5,722.3 L1420.0,722.4 L1421.5,722.6 L1423.0,722.8 L1424.5,722.9 L1426.0,723.1 L1427.5,723.2 L1429.0,723.4 L1430.5,723.6 L1431.9,723.8 L1433.4,723.9 L1434.9,724.1 L1436.4,724.3 L1437.9,724.4 L1439.4,724.6 L1440.9,724.8 L1442.4,725.0 L1443.9,725.1 L1445.4,725.3 L1446.9,725.5 L1448.3,725.6 L1449.8,725.8 L1451.3,725.9 L1452.8,726.1 L1454.3,726.2 L1455.8,726.4 L1457.3,726.5 L1458.8,726.7 L1460.3,726.8 L1461.8,726.9 L1463.3,727.0 L1464.8,727.1 L1466.3,727.2 L1467.8,727.3 L1469.3,727.4 L1470.8,727.5 L1472.3,727.6 L1473.8,727.6 L1475.3,727.6 L1476.8,727.7 L1478.3,727.7 L1479.8,727.7 L1481.3,727.7 L1482.8,727.7 L1484.3,727.6 L1485.8,727.6 L1487.3,727.5 L1488.8,727.4 L1490.3,727.3 L1491.8,727.2 L1493.3,727.1 L1494.8,727.0 L1496.3,726.8 L1497.7,726.6 L1499.2,726.4 L1500.7,726.2 L1502.2,726.0 L1503.7,725.7 L1505.2,725.4 L1506.6,725.1 L1508.1,724.8 L1509.6,724.5 L1511.0,724.2 L1512.5,723.8 L1513.9,723.4 L1515.4,723.0 L1516.8,722.6 L1518.3,722.1 L1519.7,721.7 L1521.1,721.2 L1522.5,720.7 L1524.0,720.3 L1525.4,719.7 L1526.8,719.2 L1528.2,718.7 L1529.6,718.1 L1531.0,717.6 L1532.4,717.0 L1533.7,716.5 L1535.1,715.9 L1536.5,715.3 L1537.9,714.8 L1539.3,714.2 L1540.7,713.6 L1542.1,713.0 L1543.5,712.4 L1544.8,711.9 L1546.2,711.3 L1547.6,710.7 L1549.0,710.2 L1550.4,709.6 L1551.8,709.1 L1553.2,708.6 L1554.6,708.1 L1556.1,707.6 L1557.5,707.1 L1558.9,706.6 L1560.3,706.1 L1561.8,705.7 L1563.2,705.3 L1564.6,704.8 L1566.1,704.5 L1567.5,704.1 L1569.0,703.7 L1570.5,703.4 L1572.0,703.1 L1573.4,702.9 L1574.9,702.6 L1576.4,702.4 L1577.9,702.2 L1579.4,702.0 L1580.9,701.9 L1582.4,701.8 L1583.9,701.7 L1585.4,701.7 L1586.9,701.7 L1588.4,701.7 L1589.9,701.8 L1591.4,701.8 L1592.9,702.0 L1594.4,702.1 L1595.9,702.3 L1597.4,702.5 L1598.9,702.8 L1600.4,703.0 L1601.8,703.3 L1603.3,703.7 L1604.8,704.0 L1606.2,704.4 L1607.7,704.8 L1609.1,705.2 L1610.6,705.7 L1612.0,706.1 L1613.4,706.6 L1614.8,707.1 L1616.2,707.6 L1617.6,708.2 L1619.0,708.7 L1620.4,709.3 L1621.8,709.8 L1623.2,710.4 L1624.6,711.0 L1626.0,711.6 L1627.3,712.2 L1628.7,712.8 L1630.1,713.4 L1631.5,714.0 L1632.8,714.5 L1634.2,715.1 L1635.6,715.7 L1637.0,716.3 L1638.4,716.9 L1639.8,717.5 L1641.2,718.0 L1642.5,718.6 L1643.9,719.1 L1645.3,719.7 L1646.7,720.2 L1648.1,720.8 L1649.5,721.3 L1650.9,721.8 L1652.3,722.4 L1653.8,722.9 L1655.2,723.4 L1656.6,723.9 L1658.0,724.4 L1659.4,724.9 L1660.8,725.4 L1662.3,725.8 L1663.7,726.3 L1665.1,726.7 L1666.6,727.2 L1668.0,727.6 L1669.4,728.0 L1670.9,728.4 L1672.3,728.7 L1673.8,729.1 L1675.3,729.4 L1676.8,729.7 L1678.2,729.9 L1679.7,730.2 L1681.2,730.4 L1682.7,730.5 L1684.2,730.7 L1685.7,730.8 L1687.2,730.9 L1688.7,731.0 L1690.2,731.0 L1691.7,731.0 L1693.2,731.0 L1694.7,730.9 L1696.2,730.8 L1697.7,730.7 L1699.2,730.6 L1700.7,730.4 L1702.2,730.2 L1703.7,730.0 L1705.2,729.8 L1706.6,729.6 L1708.1,729.4 L1709.6,729.2 L1711.1,729.0 L1712.6,728.7 L1714.1,728.5 L1715.6,728.2 L1717.0,728.0 L1718.5,727.8 L1720.0,727.5 L1721.5,727.2 L1722.9,726.9 L1724.4,726.6 L1725.9,726.3 L1727.3,726.0 L1728.8,725.6 L1730.2,725.3 L1731.7,724.9 L1733.2,724.6 L1734.6,724.2 L1736.1,723.8 L1737.5,723.4 L1739.0,723.1 L1740.4,722.7 L1741.9,722.4 L1743.4,722.0 L1744.8,721.7 L1746.3,721.4 L1747.7,721.1 L1749.2,720.8 L1750.7,720.5 L1752.2,720.3 L1753.7,720.1 L1755.1,719.9 L1756.6,719.7 L1758.1,719.5 L1759.6,719.3 L1761.1,719.2 L1762.6,719.1 L1764.1,718.9 L1765.6,718.8 L1767.1,718.7 L1768.6,718.7 L1770.1,718.6 L1771.6,718.5 L1773.1,718.5 L1774.6,718.5 L1776.1,718.4 L1777.6,718.4 L1779.1,718.4 L1780.6,718.4 L1782.1,718.4 L1783.6,718.4 L1785.1,718.4 L1786.6,718.4 L1788.1,718.4 L1789.6,718.4 L1791.1,718.5 L1792.6,718.5 L1794.1,718.5 L1795.6,718.6 L1797.1,718.6 L1798.6,718.6 L1800.1,718.7 L1801.6,718.7 L1803.1,718.8 L1804.6,718.8 L1806.1,718.9 L1807.6,718.9 L1809.1,718.9 L1810.6,719.0 L1812.1,719.0 L1813.6,719.1 L1815.1,719.2 L1816.6,719.2 L1818.1,719.3 L1819.6,719.3 L1821.1,719.4 L1822.6,719.4 L1824.1,719.5 L1825.6,719.5 L1827.1,719.6 L1828.6,719.6 L1830.1,719.7 L1831.6,719.7 L1833.1,719.7 L1834.6,719.8 L1836.1,719.8 L1837.6,719.9 L1839.1,719.9 L1840.6,719.9 L1842.1,720.0 L1843.6,720.0 L1845.1,720.0 L1846.6,720.1 L1848.1,720.1 L1849.6,720.1 L1851.1,720.2 L1852.6,720.2 L1854.1,720.2 L1855.6,720.2 L1857.1,720.2 L1858.6,720.3 L1860.1,720.3 L1861.6,720.3 L1863.1,720.3 L1864.6,720.3 L1866.1,720.4 L1867.6,720.4 L1869.1,720.4 L1870.6,720.4 L1872.1,720.4 L1873.6,720.4 L1875.1,720.4 L1876.6,720.4 L1878.1,720.4 L1879.6,720.4 L1881.1,720.5 L1882.6,720.5 L1884.1,720.5 L1885.6,720.5 L1887.1,720.5 L1888.6,720.5 L1890.1,720.5 L1891.6,720.5 L1893.1,720.5 L1894.6,720.5 L1896.1,720.5 L1897.6,720.5 L1899.1,720.5 L1900.6,720.5 L1902.1,720.5 L1903.6,720.5 L1905.1,720.5 L1906.6,720.5 L1908.1,720.5 L1909.6,720.5 L1911.1,720.5 L1912.6,720.5 L1914.1,720.5 L1915.6,720.5 L1917.1,720.5 L1918.6,720.5 L1920.1,720.5 L1921.6,720.5 L1923.1,720.5 L1924.6,720.5 L1926.1,720.5 L1927.6,720.5 L1929.1,720.5 L1930.6,720.5 L1932.1,720.5 L1933.6,720.6 L1935.1,720.6 L1936.6,720.6 L1938.1,720.6 L1939.6,720.6 L1941.1,720.6 L1942.6,720.6 L1944.1,720.6 L1945.6,720.6 L1947.1,720.6 L1948.6,720.7 L1950.1,720.7 L1951.6,720.7 L1953.1,720.7 L1954.6,720.7 L1956.1,720.7 L1957.6,720.8 L1959.1,720.8 L1960.6,720.8 L1960.6,720.8" stroke="#00428e"/>
<path d="M259.9,719.5 L261.4,719.5 L262.9,719.5 L264.4,719.5 L265.9,719.5 L267.4,719.5 L268.9,719.5 L270.4,719.5 L271.9,719.5 L273.4,719.5 L274.9,719.5 L276.4,719.5 L277.9,719.5 L279.4,719.5 L280.9,719.5 L282.4,719.5 L283.9,719.5 L285.4,719.5 L286.9,719.5 L288.4,719.5 L289.9,719.5 L291.4,719.5 L292.9,719.5 L294.4,719.5 L295.9,719.5 L297.4,719.5 L298.9,719.5 L300.4,719.5 L301.9,719.5 L303.4,719.5 L304.9,719.5 L306.4,719.5 L307.9,719.5 L309.4,719.5 L310.9,719.5 L312.4,719.5 L313.9,719.5 L315.4,719.5 L316.9,719.5 L318.4,719.5 L319.9,719.5 L321.4,719.5 L322.9,719.5 L324.4,719.5 L325.9,719.5 L327.4,719.5 L328.9,719.5 L330.4,719.5 L331.9,719.5 L333.4,719.4 L334.9,719.4 L336.4,719.3 L337.9,719.2 L339.4,719.1 L340.9,718.9 L342.4,718.7 L343.8,718.4 L345.3,718.2 L346.8,717.8 L348.2,717.4 L349.7,717.0 L351.1,716.5 L352.5,715.9 L353.9,715.3 L355.2,714.5 L356.5,713.7 L357.7,712.9 L358.8,711.9 L359.9,710.9 L361.0,709.8 L362.0,708.7 L363.0,707.5 L363.9,706.4 L364.9,705.2 L365.8,704.0 L366.7,702.8 L367.6,701.6 L368.4,700.3 L369.2,699.1 L369.9,697.8 L370.6,696.4 L371.2,695.1 L371.8,693.7 L372.3,692.3 L372.9,690.9 L373.4,689.5 L373.9,688.0 L374.3,686.6 L374.8,685.2 L375.2,683.7 L375.7,682.3 L376.1,680.8 L376.6,679.4 L377.0,678.0 L377.5,676.5 L377.9,675.1 L378.3,673.7 L378.8,672.2 L379.2,670.8 L379.6,669.3 L380.0,667.9 L380.4,666.5 L380.8,665.0 L381.1,663.6 L381.5,662.1 L381.8,660.7 L382.2,659.2 L382.5,657.7 L382.8,656.3 L383.1,654.8 L383.4,653.3 L383.7,651.9 L384.0,650.4 L384.3,648.9 L384.5,647.5 L384.8,646.0 L385.0,644.5 L385.3,643.0 L385.5,641.5 L385.8,640.0 L386.0,638.6 L386.2,637.1 L386.5,635.6 L386.7,634.1 L386.9,632.6 L387.1,631.1 L387.3,629.6 L387.5,628.2 L387.8,626.7 L388.0,625.2 L388.2,623.7 L388.4,622.2 L388.6,620.7 L388.9,619.2 L389.1,617.7 L389.3,616.3 L389.5,614.8 L389.8,613.3 L390.0,611.8 L390.2,610.3 L390.4,608.8 L390.7,607.3 L390.9,605.9 L391.1,604.4 L391.4,602.9 L391.6,601.4 L391.8,599.9 L392.0,598.4 L392.3,597.0 L392.5,595.5 L392.7,594.0 L393.0,592.5 L393.2,591.0 L393.4,589.6 L393.7,588.1 L393.9,586.6 L394.1,585.1 L394.4,583.6 L394.6,582.1 L394.8,580.7 L395.0,579.2 L395.3,577.7 L395.5,576.2 L395.7,574.7 L395.9,573.2 L396.1,571.8 L396.3,570.3 L396.6,568.8 L396.8,567.3 L397.0,565.8 L397.2,564.3 L397.4,562.9 L397.6,561.4 L397.8,559.9 L398.0,558.4 L398.2,556.9 L398.4,555.4 L398.6,554.0 L398.8,552.5 L399.0,551.0 L399.1,549.5 L399.3,548.0 L399.5,546.5 L399.7,545.0 L399.9,543.5 L400.0,542.0 L400.2,540.6 L400.4,539.1 L400.5,537.6 L400.7,536.1 L400.9,534.6 L401.0,533.1 L401.2,531.6 L401.3,530.1 L401.5,528.6 L401.7,527.1 L401.8,525.6 L402.0,524.1 L402.2,522.7 L402.3,521.2 L402.5,519.7 L402.7,518.2 L402.8,516.7 L403.0,515.2 L403.2,513.7 L403.3,512.2 L403.5,510.7 L403.7,509.2 L403.8,507.7 L404.0,506.3 L404.2,504.8 L404.3,503.3 L404.5,501.8 L404.7,500.3 L404.8,498.8 L405.0,497.3 L405.2,495.8 L405.4,494.3 L405.5,492.8 L405.7,491.4 L405.9,489.9 L406.0,488.4 L406.2,486.9 L406.4,485.4 L406.6,483.9 L406.7,482.4 L406.9,480.9 L407.1,479.4 L407.2,477.9 L407.4,476.5 L407.6,475.0 L407.8,473.5 L407.9,472.0 L408.1,470.5 L408.3,469.0 L408.4,467.5 L408.6,466.0 L408.8,464.5 L409.0,463.0 L409.1,461.6 L409.3,460.1 L409.5,458.6 L409.6,457.1 L409.8,455.6 L410.0,454.1 L410.1,452.6 L410.3,451.1 L410.5,449.6 L410.6,448.1 L410.8,446.6 L411.0,445.2 L411.1,443.7 L411.3,442.2 L411.4,440.7 L411.6,439.2 L411.8,437.7 L411.9,436.2 L412.1,434.7 L412.2,433.2 L412.4,431.7 L412.6,430.2 L412.7,428.7 L412.9,427.3 L413.0,425.8 L413.2,424.3 L413.3,422.8 L413.5,421.3 L413.6,419.8 L413.8,418.3 L413.9,416.8 L414.1,415.3 L414.2,413.8 L414.4,412.3 L414.5,410.8 L414.7,409.4 L414.8,407.9 L415.0,406.4 L415.1,404.9 L415.3,403.4 L415.4,401.9 L415.5,400.4 L415.7,398.9 L415.8,397.4 L416.0,395.9 L416.1,394.4 L416.3,392.9 L416.4,391.4 L416.5,389.9 L416.7,388.4 L416.8,386.9 L417.0,385.5 L417.1,384.0 L417.2,382.5 L417.4,381.0 L417.5,379.5 L417.7,378.0 L417.8,376.5 L417.9,375.0 L418.1,373.5 L418.2,372.0 L418.3,370.5 L418.5,369.0 L418.6,367.5 L418.8,366.0 L418.9,364.5 L419.0,363.0 L419.2,361.5 L419.3,360.0 L419.4,358.5 L419.6,357.0 L419.7,355.5 L419.8,354.0 L420.0,352.5 L420.1,351.0 L420.2,349.6 L420.4,348.1 L420.5,346.6 L420.7,345.1 L420.8,343.6 L420.9,342.1 L421.1,340.6 L421.2,339.1 L421.3,337.6 L421.5,336.1 L421.6,334.6 L421.7,333.1 L421.9,331.6 L422.0,330.1 L422.1,328.6 L422.3,327.1 L422.4,325.6 L422.5,324.1 L422.7,322.6 L422.8,321.1 L422.9,319.6 L423.1,318.1 L423.2,316.6 L423.3,315.1 L423.5,313.6 L423.6,312.1 L423.8,310.6 L423.9,309.1 L424.0,307.6 L424.2,306.1 L424.3,304.7 L424.4,303.2 L424.6,301.7 L424.7,300.2 L424.8,298.7 L425.0,297.2 L425.1,295.7 L425.3,294.2 L425.4,292.7 L425.5,291.2 L425.7,289.7 L425.8,288.2 L425.9,286.7 L426.1,285.2 L426.2,283.7 L426.4,282.2 L426.5,280.7 L426.6,279.2 L426.8,277.8 L426.9,276.3 L427.1,274.8 L427.2,273.3 L427.3,271.8 L427.5,270.3 L427.6,268.8 L427.8,267.3 L427.9,265.8 L428.1,264.3 L428.2,262.8 L428.3,261.3 L428.5,259.9 L428.6,258.4 L428.8,256.9 L428.9,255.4 L429.1,253.9 L429.2,252.4 L429.3,250.9 L429.5,249.4 L429.6,247.9 L429.8,246.5 L429.9,245.0 L430.1,243.5 L430.2,242.0 L430.4,240.5 L430.5,239.0 L430.7,237.5 L430.8,236.0 L431.0,234.6 L431.1,233.1 L431.3,231.6 L431.4,230.1 L431.6,228.6 L431.7,227.1 L431.9,225.7 L432.1,224.2 L432.2,222.7 L432.4,221.2 L432.5,219.7 L432.7,218.2 L432.8,216.8 L433.0,215.3 L433.1,213.8 L433.3,212.3 L433.5,210.8 L433.6,209.4 L433.8,207.9 L434.0,206.4 L434.1,204.9 L434.3,203.4 L434.4,202.0 L434.6,200.5 L434.8,199.0 L434.9,197.5 L435.1,196.0 L435.3,194.6 L435.4,193.1 L435.6,191.6 L435.8,190.1 L436.0,188.6 L436.1,187.1 L436.3,185.7 L436.5,184.2 L436.7,182.7 L436.8,181.2 L437.0,179.7 L437.2,178.3 L437.4,176.8 L437.6,175.3 L437.7,173.8 L437.9,172.3 L438.1,170.8 L438.3,169.3 L438.5,167.8 L438.7,166.4 L438.8,164.9 L439.0,163.4 L439.2,161.9 L439.4,160.4 L439.6,158.9 L439.8,157.4 L440.0,155.9 L440.2,154.4 L440.4,152.9 L440.6,151.4 L440.8,149.9 L441.0,148.4 L441.2,146.9 L441.4,145.4 L441.6,143.9 L441.8,142.4 L442.0,140.9 L442.2,139.4 L442.4,137.9 L442.7,136.4 L442.9,134.9 L443.1,133.4 L443.3,131.9 L443.5,130.4 L443.7,128.9 L444.0,127.4 L444.2,125.8 L444.4,124.3 L444.6,122.8 L444.9,121.3 L445.1,119.8 L445.3,118.3 L445.6,116.7 L445.8,115.2 L446.0,113.7 L446.2,112.2 L446.5,110.7 L446.7,109.2 L446.9,107.7 L447.1,106.2 L447.4,104.7 L447.6,103.2 L447.8,101.7 L448.0,100.2 L448.3,98.7 L448.5,97.2 L448.7,95.7 L448.9,94.2 L449.1,92.7 L449.3,91.3 L449.6,89.8 L449.8,88.3 L450.0,86.9 L450.2,85.4 L450.4,84.0 L450.6,82.5 L450.8,81.1 L451.0,79.6 L451.1,78.2 L451.3,76.8 L451.5,75.4 L451.7,74.0 L451.9,72.6 L452.0,71.2 L452.2,69.8 L452.4,68.4 L452.7,67.0 L453.0,65.6 L453.3,64.1 L453.6,62.7 L454.1,61.3 L454.5,59.8 L455.1,58.3 L455.7,56.8 L456.4,55.2 L457.2,53.6 L458.1,52.0 L459.0,50.5 L460.1,49.2 L461.1,48.1 L462.2,47.3 L463.4,47.0 L464.5,47.2 L465.6,47.8 L466.7,48.9 L467.7,50.1 L468.7,51.6 L469.6,53.2 L470.4,54.8 L471.1,56.4 L471.8,57.9 L472.3,59.4 L472.8,60.9 L473.2,62.4 L473.6,63.8 L473.9,65.2 L474.1,66.7 L474.4,68.1 L474.6,69.5 L474.8,70.9 L474.9,72.3 L475.1,73.7 L475.3,75.1 L475.4,76.5 L475.6,77.9 L475.8,79.3 L475.9,80.8 L476.1,82.2 L476.3,83.7 L476.5,85.1 L476.7,86.6 L476.9,88.0 L477.1,89.5 L477.3,91.0 L477.5,92.4 L477.7,93.9 L477.9,95.4 L478.1,96.9 L478.4,98.4 L478.6,99.9 L478.8,101.4 L479.0,102.9 L479.2,104.4 L479.4,105.9 L479.7,107.4 L479.9,108.9 L480.1,110.4 L480.3,111.9 L480.5,113.4 L480.8,114.9 L481.0,116.5 L481.2,118.0 L481.4,119.5 L481.6,121.0 L481.8,122.5 L482.0,124.0 L482.2,125.6 L482.4,127.1 L482.6,128.6 L482.8,130.1 L483.0,131.6 L483.2,133.1 L483.4,134.6 L483.6,136.2 L483.7,137.7 L483.9,139.2 L484.1,140.7 L484.3,142.2 L484.4,143.7 L484.6,145.2 L484.8,146.7 L484.9,148.2 L485.1,149.7 L485.2,151.2 L485.4,152.7 L485.5,154.2 L485.7,155.7 L485.8,157.2 L486.0,158.7 L486.1,160.2 L486.2,161.7 L486.4,163.2 L486.5,164.7 L486.6,166.2 L486.8,167.7 L486.9,169.2 L487.0,170.7 L487.2,172.2 L487.3,173.7 L487.4,175.2 L487.5,176.6 L487.6,178.1 L487.7,179.6 L487.9,181.1 L488.0,182.6 L488.1,184.1 L488.2,185.6 L488.3,187.1 L488.4,188.6 L488.5,190.1 L488.6,191.5 L488.7,193.0 L488.8,194.5 L488.9,196.0 L489.0,197.5 L489.1,199.0 L489.2,200.5 L489.3,202.0 L489.4,203.4 L489.5,204.9 L489.6,206.4 L489.7,207.9 L489.8,209.4 L489.9,210.9 L490.0,212.4 L490.1,213.9 L490.2,215.3 L490.3,216.8 L490.4,218.3 L490.5,219.8 L490.6,221.3 L490.7,222.8 L490.8,224.3 L490.8,225.8 L490.9,227.3 L491.0,228.7 L491.1,230.2 L491.2,231.7 L491.3,233.2 L491.4,234.7 L491.5,236.2 L491.6,237.7 L491.7,239.2 L491.8,240.7 L491.9,242.2 L492.0,243.7 L492.1,245.1 L492.2,246.6 L492.3,248.1 L492.4,249.6 L492.5,251.1 L492.5,252.6 L492.6,254.1 L492.7,255.6 L492.8,257.1 L492.9,258.6 L493.0,260.1 L493.1,261.6 L493.2,263.1 L493.3,264.6 L493.4,266.1 L493.5,267.6 L493.6,269.1 L493.7,270.6 L493.8,272.1 L493.9,273.6 L494.0,275.0 L494.1,276.5 L494.2,278.0 L494.3,279.5 L494.4,281.0 L494.5,282.5 L494.6,284.0 L494.7,285.5 L494.8,287.0 L494.9,288.5 L495.0,290.0 L495.1,291.5 L495.2,293.0 L495.3,294.5 L495.4,296.0 L495.5,297.5 L495.6,299.0 L495.6,300.5 L495.7,302.0 L495.8,303.5 L495.9,305.0 L496.0,306.5 L496.1,308.0 L496.2,309.5 L496.3,311.0 L496.4,312.5 L496.5,314.0 L496.6,315.5 L496.7,317.0 L496.8,318.5 L496.9,320.0 L497.0,321.5 L497.1,323.0 L497.2,324.5 L497.3,326.0 L497.4,327.5 L497.5,329.0 L497.6,330.5 L497.7,332.0 L497.8,333.5 L497.9,335.0 L498.0,336.5 L498.1,338.0 L498.2,339.5 L498.3,341.0 L498.4,342.5 L498.5,344.0 L498.6,345.5 L498.7,347.0 L498.8,348.5 L498.9,350.0 L499.0,351.5 L499.1,353.0 L499.2,354.5 L499.3,356.0 L499.4,357.5 L499.5,359.0 L499.6,360.5 L499.7,362.0 L499.8,363.5 L499.9,365.0 L500.0,366.5 L500.1,368.0 L500.2,369.5 L500.3,371.0 L500.4,372.5 L500.5,373.9 L500.6,375.4 L500.7,376.9 L500.8,378.4 L500.9,379.9 L501.0,381.4 L501.1,382.9 L501.2,384.4 L501.3,385.9 L501.4,387.4 L501.5,388.9 L501.6,390.4 L501.7,391.9 L501.8,393.4 L501.9,394.9 L501.9,396.4 L502.0,397.9 L502.1,399.4 L502.2,400.9 L502.3,402.4 L502.4,403.9 L502.5,405.4 L502.6,406.9 L502.7,408.4 L502.8,409.9 L502.8,411.4 L502.9,412.9 L503.0,414.4 L503.1,415.9 L503.2,417.4 L503.3,418.9 L503.4,420.4 L503.4,421.9 L503.5,423.3 L503.6,424.8 L503.7,426.3 L503.8,427.8 L503.8,429.3 L503.9,430.8 L504.0,432.3 L504.1,433.8 L504.2,435.3 L504.2,436.8 L504.3,438.3 L504.4,439.8 L504.5,441.3 L504.6,442.8 L504.6,444.3 L504.7,445.8 L504.8,447.3 L504.9,448.8 L505.0,450.3 L505.0,451.8 L505.1,453.3 L505.2,454.8 L505.3,456.3 L505.4,457.8 L505.5,459.3 L505.5,460.8 L505.6,462.3 L505.7,463.8 L505.8,465.3 L505.9,466.8 L506.0,468.3 L506.1,469.8 L506.1,471.3 L506.2,472.8 L506.3,474.3 L506.4,475.8 L506.5,477.3 L506.6,478.8 L506.7,480.3 L506.8,481.8 L506.8,483.3 L506.9,484.8 L507.0,486.3 L507.1,487.8 L507.2,489.2 L507.3,490.7 L507.4,492.2 L507.4,493.7 L507.5,495.2 L507.6,496.7 L507.7,498.2 L507.8,499.7 L507.9,501.2 L507.9,502.7 L508.0,504.2 L508.1,505.7 L508.2,507.2 L508.2,508.7 L508.3,510.2 L508.4,511.7 L508.5,513.2 L508.6,514.7 L508.6,516.2 L508.7,517.7 L508.8,519.2 L508.8,520.7 L508.9,522.2 L509.0,523.7 L509.1,525.2 L509.1,526.7 L509.2,528.2 L509.3,529.7 L509.3,531.2 L509.4,532.7 L509.5,534.2 L509.5,535.7 L509.6,537.2 L509.7,538.7 L509.7,540.2 L509.8,541.7 L509.9,543.2 L510.0,544.7 L510.0,546.2 L510.1,547.7 L510.2,549.2 L510.2,550.7 L510.3,552.2 L510.4,553.7 L510.5,555.2 L510.5,556.7 L510.6,558.2 L510.7,559.7 L510.8,561.2 L510.8,562.7 L510.9,564.2 L511.0,565.7 L511.1,567.2 L511.2,568.6 L511.2,570.1 L511.3,571.6 L511.4,573.1 L511.5,574.6 L511.6,576.1 L511.6,577.6 L511.7,579.1 L511.8,580.6 L511.9,582.1 L512.0,583.6 L512.0,585.1 L512.1,586.6 L512.2,588.1 L512.3,589.6 L512.4,591.1 L512.4,592.6 L512.5,594.1 L512.6,595.6 L512.7,597.1 L512.8,598.6 L512.8,600.1 L512.9,601.6 L513.0,603.1 L513.1,604.6 L513.1,606.1 L513.2,607.6 L513.3,609.1 L513.4,610.6 L513.4,612.1 L513.5,613.6 L513.6,615.1 L513.7,616.6 L513.7,618.1 L513.8,619.6 L513.9,621.1 L513.9,622.6 L514.0,624.1 L514.1,625.6 L514.2,627.1 L514.2,628.6 L514.3,630.1 L514.4,631.6 L514.4,633.1 L514.5,634.6 L514.6,636.1 L514.6,637.6 L514.7,639.1 L514.8,640.6 L514.8,642.1 L514.9,643.6 L515.0,645.1 L515.0,646.6 L515.1,648.1 L515.2,649.5 L515.3,651.0 L515.3,652.5 L515.4,654.0 L515.5,655.5 L515.5,657.0 L515.6,658.5 L515.7,660.0 L515.8,661.5 L515.8,663.0 L515.9,664.5 L516.0,666.0 L516.1,667.5 L516.1,669.0 L516.2,670.5 L516.3,672.0 L516.4,673.5 L516.4,675.0 L516.5,676.5 L516.6,678.0 L516.7,679.5 L516.8,681.0 L516.8,682.5 L516.9,684.0 L517.0,685.5 L517.1,687.0 L517.1,688.5 L517.2,690.0 L517.3,691.5 L517.4,693.0 L517.5,694.5 L517.5,696.0 L517.6,697.5 L517.7,699.0 L517.8,700.5 L517.9,702.0 L517.9,703.5 L518.0,705.0 L518.1,706.5 L518.2,708.0 L518.2,709.5 L518.3,711.0 L518.4,712.5 L518.5,714.0 L518.6,715.5 L518.6,717.0 L518.7,718.5 L518.8,720.0 L518.9,721.5 L518.9,723.0 L519.0,724.5 L519.1,725.9 L519.2,727.4 L519.2,728.9 L519.3,730.4 L519.4,731.9 L519.5,733.4 L519.5,734.9 L519.6,736.4 L519.7,737.9 L519.7,739.4 L519.8,740.9 L519.9,742.4 L520.0,743.9 L520.0,745.4 L520.1,746.9 L520.2,748.4 L520.2,749.9 L520.3,751.4 L520.4,752.9 L520.4,754.4 L520.5,755.9 L520.6,757.4 L520.6,758.9 L520.7,760.4 L520.8,761.9 L520.8,763.4 L520.9,764.9 L521.0,766.4 L521.0,767.9 L521.1,769.4 L521.2,770.9 L521.2,772.4 L521.3,773.9 L521.4,775.4 L521.4,776.9 L521.5,778.4 L521.5,779.9 L521.6,781.4 L521.7,782.9 L521.8,784.4 L521.8,785.9 L521.9,787.4 L522.0,788.9 L522.0,790.4 L522.1,791.9 L522.2,793.4 L522.2,794.9 L522.3,796.4 L522.4,797.9 L522.5,799.4 L522.5,800.9 L522.6,802.4 L522.7,803.9 L522.8,805.4 L522.9,806.9 L522.9,808.4 L523.0,809.9 L523.1,811.4 L523.2,812.9 L523.3,814.4 L523.4,815.8 L523.4,817.3 L523.5,818.8 L523.6,820.3 L523.7,821.8 L523.8,823.3 L523.9,824.8 L524.0,826.3 L524.1,827.8 L524.2,829.3 L524.3,830.8 L524.3,832.3 L524.4,833.8 L524.5,835.3 L524.6,836.8 L524.7,838.3 L524.8,839.8 L524.9,841.3 L525.0,842.8 L525.1,844.3 L525.2,845.8 L525.2,847.3 L525.3,848.8 L525.4,850.3 L525.5,851.8 L525.6,853.3 L525.7,854.8 L525.7,856.3 L525.8,857.8 L525.9,859.3 L526.0,860.8 L526.1,862.3 L526.1,863.8 L526.2,865.3 L526.3,866.8 L526.4,868.3 L526.4,869.8 L526.5,871.3 L526.6,872.8 L526.7,874.3 L526.7,875.8 L526.8,877.2 L526.9,878.7 L527.0,880.2 L527.0,881.7 L527.1,883.2 L527.2,884.7 L527.3,886.2 L527.3,887.7 L527.4,889.2 L527.5,890.7 L527.6,892.2 L527.7,893.7 L527.7,895.2 L527.8,896.7 L527.9,898.2 L528.0,899.7 L528.1,901.2 L528.1,902.7 L528.2,904.2 L528.3,905.7 L528.4,907.2 L528.5,908.7 L528.6,910.2 L528.7,911.7 L528.8,913.2 L528.8,914.7 L528.9,916.2 L529.0,917.7 L529.1,919.2 L529.2,920.7 L529.3,922.2 L529.4,923.7 L529.5,925.2 L529.6,926.7 L529.7,928.2 L529.8,929.7 L529.9,931.2 L530.0,932.7 L530.1,934.2 L530.2,935.7 L530.3,937.2 L530.4,938.6 L530.4,940.1 L530.5,941.6 L530.6,943.1 L530.7,944.6 L530.8,946.1 L530.9,947.6 L531.0,949.1 L531.0,950.6 L531.1,952.1 L531.2,953.6 L531.3,955.1 L531.3,956.6 L531.4,958.1 L531.5,959.6 L531.5,961.1 L531.6,962.6 L531.7,964.1 L531.7,965.6 L531.8,967.1 L531.9,968.6 L531.9,970.1 L532.0,971.6 L532.0,973.1 L532.1,974.6 L532.2,976.1 L532.2,977.6 L532.3,979.1 L532.3,980.6 L532.4,982.1 L532.5,983.6 L532.5,985.1 L532.6,986.6 L532.7,988.1 L532.7,989.6 L532.8,991.1 L532.9,992.6 L532.9,994.1 L533.0,995.6 L533.1,997.1 L533.2,998.6 L533.2,1000.1 L533.3,1001.6 L533.4,1003.1 L533.5,1004.6 L533.6,1006.1 L533.6,1007.6 L533.7,1009.1 L533.8,1010.6 L533.9,1012.1 L534.0,1013.6 L534.1,1015.1 L534.2,1016.5 L534.3,1018.0 L534.4,1019.5 L534.5,1021.0 L534.6,1022.5 L534.8,1024.0 L534.9,1025.5 L535.0,1027.0 L535.1,1028.5 L535.2,1030.0 L535.3,1031.5 L535.4,1033.0 L535.5,1034.5 L535.6,1036.0 L535.7,1037.5 L535.8,1039.0 L535.9,1040.5 L536.0,1042.0 L536.1,1043.5 L536.2,1045.0 L536.3,1046.5 L536.4,1048.0 L536.5,1049.5 L536.5,1051.0 L536.6,1052.5 L536.7,1054.0 L536.8,1055.5 L536.9,1057.0 L537.0,1058.5 L537.1,1060.0 L537.2,1061.5 L537.2,1062.9 L537.3,1064.4 L537.4,1065.9 L537.5,1067.4 L537.6,1068.9 L537.7,1070.4 L537.8,1071.9 L537.8,1073.4 L537.9,1074.9 L538.0,1076.4 L538.1,1077.9 L538.2,1079.4 L538.2,1080.9 L538.3,1082.4 L538.4,1083.9 L538.5,1085.4 L538.6,1086.9 L538.6,1088.4 L538.7,1089.9 L538.8,1091.4 L538.9,1092.9 L539.0,1094.4 L539.0,1095.9 L539.1,1097.4 L539.2,1098.9 L539.3,1100.4 L539.4,1101.9 L539.5,1103.4 L539.5,1104.9 L539.6,1106.4 L539.7,1107.9 L539.8,1109.4 L539.9,1110.9 L540.0,1112.4 L540.0,1113.9 L540.1,1115.4 L540.2,1116.9 L540.3,1118.4 L540.4,1119.9 L540.5,1121.4 L540.6,1122.9 L540.7,1124.4 L540.7,1125.9 L540.8,1127.4 L540.9,1128.9 L541.0,1130.3 L541.1,1131.8 L541.2,1133.3 L541.3,1134.8 L541.4,1136.3 L541.5,1137.8 L541.6,1139.3 L541.7,1140.8 L541.8,1142.3 L541.9,1143.8 L542.0,1145.3 L542.1,1146.8 L542.2,1148.3 L542.3,1149.8 L542.4,1151.3 L542.5,1152.8 L542.6,1154.3 L542.7,1155.8 L542.8,1157.3 L542.9,1158.8 L543.0,1160.3 L543.1,1161.8 L543.2,1163.3 L543.3,1164.8 L543.4,1166.3 L543.6,1167.7 L543.7,1169.2 L543.8,1170.7 L543.9,1172.2 L544.0,1173.7 L544.1,1175.2 L544.2,1176.7 L544.3,1178.2 L544.5,1179.7 L544.6,1181.2 L544.7,1182.7 L544.8,1184.2 L544.9,1185.7 L545.0,1187.2 L545.2,1188.7 L545.3,1190.2 L545.4,1191.7 L545.5,1193.2 L545.6,1194.7 L545.7,1196.2 L545.9,1197.7 L546.0,1199.2 L546.1,1200.7 L546.2,1202.1 L546.3,1203.6 L546.5,1205.1 L546.6,1206.6 L546.7,1208.1 L546.8,1209.6 L546.9,1211.1 L547.1,1212.6 L547.2,1214.1 L547.3,1215.6 L547.4,1217.1 L547.5,1218.6 L547.7,1220.1 L547.8,1221.6 L547.9,1223.1 L548.0,1224.6 L548.2,1226.1 L548.3,1227.6 L548.4,1229.1 L548.5,1230.6 L548.7,1232.1 L548.8,1233.6 L548.9,1235.1 L549.0,1236.6 L549.2,1238.1 L549.3,1239.6 L549.4,1241.1 L549.5,1242.5 L549.7,1244.0 L549.8,1245.5 L549.9,1247.0 L550.1,1248.5 L550.2,1250.0 L550.3,1251.4 L550.5,1252.9 L550.6,1254.4 L550.7,1255.9 L550.9,1257.4 L551.0,1258.8 L551.2,1260.3 L551.3,1261.8 L551.4,1263.3 L551.6,1264.7 L551.7,1266.2 L551.9,1267.7 L552.0,1269.2 L552.2,1270.7 L552.3,1272.1 L552.5,1273.6 L552.7,1275.1 L552.8,1276.6 L553.0,1278.1 L553.2,1279.6 L553.3,1281.0 L553.5,1282.5 L553.7,1284.0 L553.8,1285.5 L554.0,1287.0 L554.2,1288.5 L554.4,1290.0 L554.6,1291.5 L554.8,1293.0 L555.0,1294.5 L555.2,1296.0 L555.4,1297.5 L555.6,1299.0 L555.8,1300.5 L556.0,1302.1 L556.2,1303.6 L556.4,1305.1 L556.6,1306.6 L556.9,1308.2 L557.1,1309.7 L557.3,1311.2 L557.6,1312.8 L557.8,1314.3 L558.1,1315.8 L558.3,1317.4 L558.5,1318.9 L558.8,1320.4 L559.0,1321.9 L559.3,1323.4 L559.5,1324.9 L559.8,1326.4 L560.0,1327.8 L560.3,1329.3 L560.5,1330.7 L560.8,1332.1 L561.0,1333.5 L561.3,1334.9 L561.5,1336.2 L561.8,1337.5 L562.0,1338.9 L562.3,1340.2 L562.5,1341.5 L562.9,1342.9 L563.2,1344.3 L563.6,1345.8 L564.0,1347.3 L564.5,1348.9 L565.0,1350.5 L565.6,1352.3 L566.3,1354.1 L567.0,1355.8 L567.8,1357.1 L568.6,1357.9 L569.4,1357.9 L570.3,1357.2 L571.2,1355.9 L572.0,1354.3 L572.8,1352.5 L573.5,1350.8 L574.2,1349.1 L574.8,1347.6 L575.4,1346.1 L575.9,1344.7 L576.4,1343.3 L576.8,1342.0 L577.2,1340.6 L577.6,1339.4 L577.9,1338.0 L578.2,1336.7 L578.6,1335.4 L578.9,1334.0 L579.2,1332.6 L579.5,1331.2 L579.7,1329.7 L580.0,1328.3 L580.3,1326.8 L580.5,1325.3 L580.8,1323.8 L581.0,1322.2 L581.2,1320.7 L581.5,1319.2 L581.7,1317.6 L581.9,1316.1 L582.1,1314.6 L582.3,1313.1 L582.5,1311.6 L582.7,1310.0 L582.9,1308.5 L583.1,1307.0 L583.3,1305.5 L583.5,1304.0 L583.7,1302.5 L583.9,1301.0 L584.1,1299.5 L584.2,1298.1 L584.4,1296.6 L584.6,1295.1 L584.8,1293.6 L584.9,1292.1 L585.1,1290.6 L585.3,1289.2 L585.4,1287.7 L585.6,1286.2 L585.7,1284.7 L585.9,1283.3 L586.1,1281.8 L586.2,1280.3 L586.4,1278.8 L586.5,1277.4 L586.7,1275.9 L586.9,1274.4 L587.0,1272.9 L587.2,1271.5 L587.3,1270.0 L587.5,1268.5 L587.6,1267.0 L587.8,1265.5 L588.0,1264.0 L588.1,1262.5 L588.3,1261.1 L588.4,1259.6 L588.6,1258.1 L588.7,1256.6 L588.9,1255.1 L589.0,1253.6 L589.2,1252.1 L589.4,1250.6 L589.5,1249.1 L589.7,1247.6 L589.8,1246.1 L590.0,1244.6 L590.1,1243.2 L590.3,1241.7 L590.4,1240.2 L590.6,1238.7 L590.7,1237.2 L590.9,1235.7 L591.0,1234.2 L591.1,1232.7 L591.3,1231.2 L591.4,1229.7 L591.6,1228.2 L591.7,1226.7 L591.8,1225.2 L592.0,1223.7 L592.1,1222.2 L592.3,1220.7 L592.4,1219.2 L592.5,1217.7 L592.7,1216.2 L592.8,1214.7 L592.9,1213.2 L593.0,1211.7 L593.2,1210.2 L593.3,1208.7 L593.4,1207.2 L593.5,1205.7 L593.7,1204.2 L593.8,1202.7 L593.9,1201.2 L594.0,1199.7 L594.2,1198.3 L594.3,1196.8 L594.4,1195.3 L594.5,1193.8 L594.7,1192.3 L594.8,1190.8 L594.9,1189.3 L595.1,1187.8 L595.2,1186.3 L595.3,1184.8 L595.5,1183.3 L595.6,1181.8 L595.7,1180.3 L595.9,1178.8 L596.0,1177.3 L596.2,1175.9 L596.3,1174.4 L596.5,1172.9 L596.6,1171.4 L596.8,1169.9 L597.0,1168.4 L597.1,1166.9 L597.3,1165.4 L597.4,1163.9 L597.6,1162.4 L597.8,1160.9 L597.9,1159.4 L598.1,1158.0 L598.3,1156.5 L598.4,1155.0 L598.6,1153.5 L598.8,1152.0 L598.9,1150.5 L599.1,1149.0 L599.3,1147.5 L599.4,1146.0 L599.6,1144.5 L599.7,1143.0 L599.9,1141.5 L600.0,1140.0 L600.2,1138.6 L600.3,1137.1 L600.5,1135.6 L600.6,1134.1 L600.7,1132.6 L600.8,1131.1 L601.0,1129.6 L601.1,1128.1 L601.2,1126.6 L601.3,1125.1 L601.4,1123.6 L601.5,1122.1 L601.5,1120.6 L601.6,1119.1 L601.7,1117.6 L601.8,1116.1 L601.8,1114.6 L601.9,1113.1 L601.9,1111.6 L601.9,1110.1 L602.0,1108.6 L602.0,1107.1 L602.0,1105.6 L602.1,1104.1 L602.1,1102.6 L602.1,1101.1 L602.2,1099.6 L602.2,1098.1 L602.3,1096.6 L602.4,1095.1 L602.5,1093.6 L602.6,1092.1 L602.7,1090.6 L602.8,1089.1 L603.0,1087.6 L603.1,1086.2 L603.3,1084.7 L603.4,1083.2 L603.6,1081.7 L603.8,1080.2 L603.9,1078.7 L604.1,1077.2 L604.3,1075.7 L604.4,1074.2 L604.6,1072.7 L604.7,1071.2 L604.9,1069.7 L605.0,1068.2 L605.2,1066.8 L605.3,1065.3 L605.4,1063.8 L605.5,1062.3 L605.7,1060.8 L605.8,1059.3 L605.9,1057.8 L606.0,1056.3 L606.1,1054.8 L606.2,1053.3 L606.3,1051.8 L606.4,1050.3 L606.5,1048.8 L606.6,1047.3 L606.7,1045.8 L606.8,1044.3 L606.9,1042.8 L607.0,1041.3 L607.1,1039.8 L607.1,1038.3 L607.2,1036.8 L607.3,1035.3 L607.4,1033.8 L607.5,1032.3 L607.6,1030.8 L607.7,1029.3 L607.7,1027.8 L607.8,1026.3 L607.9,1024.8 L608.0,1023.3 L608.1,1021.8 L608.2,1020.4 L608.3,1018.9 L608.4,1017.4 L608.4,1015.9 L608.5,1014.4 L608.6,1012.9 L608.7,1011.4 L608.8,1009.9 L608.9,1008.4 L609.0,1006.9 L609.1,1005.4 L609.2,1003.9 L609.3,1002.4 L609.4,1000.9 L609.5,999.4 L609.7,997.9 L609.8,996.4 L609.9,994.9 L610.0,993.4 L610.1,991.9 L610.2,990.4 L610.3,988.9 L610.4,987.4 L610.5,985.9 L610.6,984.4 L610.8,982.9 L610.9,981.4 L611.0,979.9 L611.1,978.5 L611.2,977.0 L611.3,975.5 L611.5,974.0 L611.6,972.5 L611.7,971.0 L611.8,969.5 L611.9,968.0 L612.1,966.5 L612.2,965.0 L612.3,963.5 L612.4,962.0 L612.5,960.5 L612.7,959.0 L612.8,957.5 L612.9,956.0 L613.0,954.5 L613.1,953.0 L613.3,951.5 L613.4,950.0 L613.5,948.5 L613.6,947.1 L613.7,945.6 L613.9,944.1 L614.0,942.6 L614.1,941.1 L614.2,939.6 L614.3,938.1 L614.5,936.6 L614.6,935.1 L614.7,933.6 L614.8,932.1 L614.9,930.6 L615.0,929.1 L615.1,927.6 L615.3,926.1 L615.4,924.6 L615.5,923.1 L615.6,921.6 L615.7,920.1 L615.8,918.6 L615.9,917.1 L616.0,915.6 L616.1,914.1 L616.2,912.7 L616.3,911.2 L616.5,909.7 L616.6,908.2 L616.7,906.7 L616.8,905.2 L616.9,903.7 L617.0,902.2 L617.1,900.7 L617.2,899.2 L617.3,897.7 L617.4,896.2 L617.5,894.7 L617.6,893.2 L617.7,891.7 L617.8,890.2 L617.9,888.7 L618.0,887.2 L618.1,885.7 L618.2,884.2 L618.3,882.7 L618.5,881.2 L618.6,879.7 L618.7,878.2 L618.8,876.7 L618.9,875.2 L619.0,873.8 L619.1,872.3 L619.2,870.8 L619.4,869.3 L619.5,867.8 L619.6,866.3 L619.7,864.8 L619.8,863.3 L620.0,861.8 L620.1,860.3 L620.2,858.8 L620.3,857.3 L620.4,855.8 L620.6,854.3 L620.7,852.8 L620.8,851.3 L620.9,849.8 L621.1,848.3 L621.2,846.8 L621.3,845.3 L621.4,843.8 L621.5,842.4 L621.7,840.9 L621.8,839.4 L621.9,837.9 L622.0,836.4 L622.1,834.9 L622.2,833.4 L622.4,831.9 L622.5,830.4 L622.6,828.9 L622.7,827.4 L622.8,825.9 L622.9,824.4 L623.0,822.9 L623.2,821.4 L623.3,819.9 L623.4,818.4 L623.5,816.9 L623.6,815.4 L623.7,813.9 L623.8,812.4 L623.9,810.9 L624.0,809.4 L624.1,807.9 L624.2,806.5 L624.3,805.0 L624.4,803.5 L624.5,802.0 L624.6,800.5 L624.7,799.0 L624.8,797.5 L624.9,796.0 L625.0,794.5 L625.1,793.0 L625.2,791.5 L625.3,790.0 L625.4,788.5 L625.6,787.0 L625.7,785.5 L625.8,784.0 L625.9,782.5 L626.0,781.0 L626.1,779.5 L626.2,778.0 L626.4,776.5 L626.5,775.0 L626.6,773.5 L626.7,772.0 L626.9,770.6 L627.0,769.1 L627.1,767.6 L627.3,766.1 L627.4,764.6 L627.5,763.1 L627.7,761.6 L627.8,760.1 L627.9,758.6 L628.1,757.1 L628.2,755.6 L628.4,754.1 L628.5,752.6 L628.6,751.1 L628.8,749.6 L628.9,748.1 L629.1,746.7 L629.2,745.2 L629.3,743.7 L629.5,742.2 L629.6,740.7 L629.8,739.2 L629.9,737.7 L630.1,736.2 L630.2,734.7 L630.3,733.2 L630.5,731.7 L630.6,730.2 L630.8,728.7 L630.9,727.2 L631.0,725.7 L631.2,724.3 L631.3,722.8 L631.4,721.3 L631.6,719.8 L631.7,718.3 L631.8,716.8 L632.0,715.3 L632.1,713.8 L632.2,712.3 L632.4,710.8 L632.5,709.3 L632.6,707.8 L632.7,706.3 L632.9,704.8 L633.0,703.3 L633.1,701.8 L633.2,700.3 L633.4,698.8 L633.5,697.3 L633.6,695.9 L633.7,694.4 L633.9,692.9 L634.0,691.4 L634.1,689.9 L634.2,688.4 L634.4,686.9 L634.5,685.4 L634.6,683.9 L634.7,682.4 L634.9,680.9 L635.0,679.4 L635.1,677.9 L635.3,676.4 L635.4,674.9 L635.5,673.4 L635.7,671.9 L635.8,670.5 L635.9,669.0 L636.1,667.5 L636.2,666.0 L636.3,664.5 L636.5,663.0 L636.6,661.5 L636.8,660.0 L636.9,658.5 L637.0,657.0 L637.2,655.5 L637.3,654.0 L637.5,652.5 L637.6,651.0 L637.8,649.6 L637.9,648.1 L638.1,646.6 L638.2,645.1 L638.4,643.6 L638.5,642.1 L638.7,640.6 L638.9,639.1 L639.0,637.6 L639.2,636.1 L639.3,634.6 L639.5,633.1 L639.7,631.6 L639.8,630.2 L640.0,628.7 L640.2,627.2 L640.3,625.7 L640.5,624.2 L640.7,622.7 L640.9,621.2 L641.0,619.7 L641.2,618.2 L641.4,616.7 L641.6,615.2 L641.8,613.7 L642.0,612.3 L642.2,610.8 L642.3,609.3 L642.5,607.8 L642.7,606.3 L642.9,604.8 L643.1,603.3 L643.3,601.8 L643.5,600.3 L643.7,598.9 L643.9,597.4 L644.1,595.9 L644.4,594.4 L644.6,592.9 L644.8,591.4 L645.0,590.0 L645.2,588.5 L645.4,587.0 L645.7,585.5 L645.9,584.0 L646.1,582.6 L646.3,581.1 L646.6,579.6 L646.8,578.1 L647.0,576.7 L647.3,575.2 L647.5,573.7 L647.8,572.2 L648.0,570.8 L648.2,569.3 L648.5,567.8 L648.7,566.4 L649.0,564.9 L649.2,563.4 L649.5,562.0 L649.7,560.5 L650.0,559.0 L650.3,557.5 L650.5,556.1 L650.8,554.6 L651.1,553.1 L651.3,551.6 L651.6,550.2 L651.9,548.7 L652.1,547.2 L652.4,545.7 L652.7,544.3 L652.9,542.8 L653.2,541.3 L653.5,539.8 L653.8,538.3 L654.0,536.8 L654.3,535.4 L654.6,533.9 L654.9,532.4 L655.2,530.9 L655.4,529.4 L655.7,527.9 L656.0,526.4 L656.3,524.9 L656.7,523.4 L657.1,521.9 L657.5,520.5 L658.0,519.1 L658.6,517.7 L659.2,516.3 L660.0,515.0 L660.8,513.7 L661.8,512.5 L662.8,511.3 L664.1,510.3 L665.4,509.3 L666.7,508.6 L668.1,508.1 L669.5,508.0 L670.9,508.3 L672.3,508.9 L673.6,509.7 L674.8,510.8 L675.9,511.9 L677.0,513.1 L677.9,514.4 L678.7,515.7 L679.5,517.0 L680.2,518.3 L680.8,519.6 L681.4,521.0 L681.9,522.4 L682.5,523.8 L683.0,525.2 L683.5,526.5 L684.0,527.9 L684.5,529.3 L685.0,530.8 L685.4,532.2 L685.9,533.6 L686.4,535.0 L686.8,536.4 L687.3,537.8 L687.7,539.3 L688.2,540.7 L688.6,542.1 L689.0,543.6 L689.5,545.0 L689.9,546.5 L690.3,547.9 L690.7,549.3 L691.1,550.8 L691.5,552.2 L691.9,553.7 L692.3,555.1 L692.7,556.6 L693.1,558.0 L693.5,559.5 L693.9,560.9 L694.3,562.4 L694.7,563.9 L695.1,565.3 L695.5,566.8 L695.9,568.2 L696.3,569.7 L696.7,571.1 L697.1,572.6 L697.5,574.0 L697.9,575.5 L698.3,576.9 L698.7,578.4 L699.2,579.8 L699.6,581.3 L700.0,582.7 L700.4,584.1 L700.9,585.6 L701.3,587.0 L701.8,588.5 L702.2,589.9 L702.6,591.3 L703.1,592.8 L703.5,594.2 L704.0,595.6 L704.4,597.1 L704.9,598.5 L705.3,599.9 L705.7,601.4 L706.2,602.8 L706.6,604.2 L707.0,605.7 L707.5,607.1 L707.9,608.5 L708.3,610.0 L708.7,611.4 L709.2,612.9 L709.6,614.3 L710.0,615.7 L710.4,617.2 L710.8,618.6 L711.1,620.1 L711.5,621.5 L711.9,623.0 L712.2,624.4 L712.6,625.9 L712.9,627.4 L713.3,628.8 L713.6,630.3 L714.0,631.7 L714.3,633.2 L714.6,634.7 L715.0,636.1 L715.3,637.6 L715.6,639.1 L716.0,640.5 L716.3,642.0 L716.7,643.4 L717.0,644.9 L717.4,646.4 L717.7,647.8 L718.1,649.3 L718.5,650.7 L718.9,652.2 L719.3,653.6 L719.7,655.1 L720.1,656.5 L720.5,657.9 L721.0,659.4 L721.4,660.8 L721.9,662.2 L722.3,663.6 L722.8,665.1 L723.3,666.5 L723.9,667.9 L724.4,669.3 L724.9,670.7 L725.5,672.1 L726.0,673.5 L726.6,674.9 L727.2,676.3 L727.8,677.6 L728.4,679.0 L729.0,680.4 L729.7,681.7 L730.3,683.1 L731.0,684.4 L731.7,685.8 L732.4,687.1 L733.2,688.4 L734.0,689.6 L734.9,690.9 L735.7,692.1 L736.7,693.3 L737.7,694.4 L738.7,695.6 L739.8,696.7 L740.9,697.7 L742.1,698.7 L743.3,699.6 L744.6,700.5 L745.9,701.2 L747.2,701.9 L748.6,702.5 L750.0,703.0 L751.4,703.4 L752.8,703.6 L754.3,703.8 L755.8,703.9 L757.3,703.9 L758.8,703.9 L760.3,703.7 L761.8,703.5 L763.4,703.3 L764.9,703.0 L766.4,702.7 L767.9,702.3 L769.4,702.0 L770.9,701.6 L772.4,701.2 L773.9,700.7 L775.4,700.3 L776.8,699.9 L778.3,699.5 L779.7,699.0 L781.1,698.6 L782.5,698.2 L784.0,697.7 L785.4,697.3 L786.8,696.9 L788.2,696.4 L789.7,696.0 L791.1,695.6 L792.5,695.2 L794.0,694.8 L795.4,694.5 L796.9,694.1 L798.3,693.8 L799.8,693.4 L801.3,693.1 L802.8,692.8 L804.3,692.6 L805.7,692.3 L807.2,692.1 L808.7,691.9 L810.2,691.7 L811.7,691.5 L813.2,691.4 L814.7,691.3 L816.2,691.2 L817.7,691.2 L819.2,691.2 L820.7,691.2 L822.2,691.2 L823.7,691.3 L825.2,691.4 L826.7,691.5 L828.2,691.7 L829.7,691.8 L831.2,692.0 L832.7,692.2 L834.2,692.4 L835.7,692.6 L837.1,692.8 L838.6,693.0 L840.1,693.2 L841.6,693.4 L843.1,693.7 L844.6,693.9 L846.1,694.2 L847.5,694.4 L849.0,694.6 L850.5,694.9 L852.0,695.2 L853.4,695.4 L854.9,695.7 L856.4,695.9 L857.9,696.2 L859.3,696.5 L860.8,696.7 L862.3,697.0 L863.8,697.3 L865.2,697.6 L866.7,697.8 L868.2,698.1 L869.7,698.4 L871.1,698.7 L872.6,698.9 L874.1,699.2 L875.6,699.5 L877.0,699.8 L878.5,700.0 L880.0,700.3 L881.5,700.6 L883.0,700.9 L884.4,701.1 L885.9,701.4 L887.4,701.6 L888.9,701.9 L890.4,702.1 L891.8,702.3 L893.3,702.6 L894.8,702.8 L896.3,703.0 L897.8,703.2 L899.3,703.4 L900.8,703.5 L902.3,703.7 L903.7,703.8 L905.2,704.0 L906.7,704.1 L908.2,704.2 L909.7,704.3 L911.2,704.4 L912.7,704.4 L914.2,704.5 L915.7,704.5 L917.2,704.6 L918.7,704.6 L920.2,704.6 L921.7,704.6 L923.2,704.6 L924.7,704.6 L926.2,704.6 L927.7,704.6 L929.2,704.6 L930.7,704.6 L932.2,704.6 L933.7,704.6 L935.2,704.6 L936.7,704.6 L938.2,704.6 L939.7,704.6 L941.2,704.6 L942.7,704.7 L944.2,704.7 L945.7,704.7 L947.2,704.8 L948.7,704.8 L950.2,704.9 L951.7,705.0 L953.2,705.0 L954.7,705.1 L956.2,705.2 L957.7,705.3 L959.2,705.4 L960.7,705.5 L962.2,705.7 L963.7,705.8 L965.2,705.9 L966.7,706.1 L968.2,706.3 L969.7,706.4 L971.2,706.6 L972.7,706.8 L974.1,707.0 L975.6,707.3 L977.1,707.5 L978.6,707.7 L980.1,708.0 L981.5,708.2 L983.0,708.5 L984.5,708.8 L986.0,709.1 L987.4,709.4 L988.9,709.7 L990.4,710.0 L991.8,710.3 L993.3,710.6 L994.8,711.0 L996.2,711.3 L997.7,711.6 L999.2,712.0 L1000.6,712.3 L1002.1,712.7 L1003.5,713.1 L1005.0,713.4 L1006.4,713.8 L1007.9,714.2 L1009.3,714.5 L1010.8,714.9 L1012.3,715.3 L1013.7,715.6 L1015.2,716.0 L1016.6,716.4 L1018.1,716.8 L1019.5,717.1 L1021.0,717.5 L1022.4,717.9 L1023.9,718.2 L1025.3,718.6 L1026.8,719.0 L1028.2,719.3 L1029.7,719.7 L1031.1,720.1 L1032.6,720.4 L1034.1,720.8 L1035.5,721.1 L1037.0,721.5 L1038.4,721.8 L1039.9,722.1 L1041.4,722.5 L1042.8,722.8 L1044.3,723.1 L1045.8,723.4 L1047.3,723.7 L1048.7,724.0 L1050.2,724.3 L1051.7,724.6 L1053.2,724.9 L1054.7,725.1 L1056.2,725.4 L1057.6,725.6 L1059.1,725.8 L1060.6,726.1 L1062.1,726.3 L1063.6,726.5 L1065.1,726.6 L1066.6,726.8 L1068.1,727.0 L1069.6,727.1 L1071.1,727.2 L1072.6,727.4 L1074.1,727.5 L1075.6,727.5 L1077.1,727.6 L1078.6,727.7 L1080.0,727.7 L1081.5,727.7 L1083.0,727.7 L1084.5,727.7 L1086.0,727.6 L1087.5,727.6 L1089.0,727.5 L1090.5,727.4 L1092.0,727.3 L1093.5,727.2 L1095.0,727.1 L1096.5,727.0 L1098.0,726.8 L1099.5,726.7 L1101.0,726.5 L1102.5,726.3 L1104.0,726.2 L1105.5,726.0 L1107.0,725.8 L1108.5,725.6 L1109.9,725.5 L1111.4,725.3 L1112.9,725.1 L1114.4,724.9 L1115.9,724.7 L1117.4,724.6 L1118.9,724.4 L1120.4,724.2 L1121.9,724.0 L1123.4,723.8 L1124.9,723.7 L1126.3,723.5 L1127.8,723.3 L1129.3,723.2 L1130.8,723.0 L1132.3,722.8 L1133.8,722.6 L1135.3,722.5 L1136.8,722.3 L1138.3,722.2 L1139.8,722.0 L1141.2,721.9 L1142.7,721.7 L1144.2,721.6 L1145.7,721.4 L1147.2,721.3 L1148.7,721.1 L1150.2,721.0 L1151.7,720.9 L1153.2,720.7 L1154.7,720.6 L1156.2,720.5 L1157.7,720.4 L1159.2,720.2 L1160.7,720.1 L1162.2,720.0 L1163.7,719.9 L1165.2,719.8 L1166.7,719.7 L1168.2,719.6 L1169.6,719.5 L1171.1,719.4 L1172.6,719.3 L1174.1,719.3 L1175.6,719.2 L1177.1,719.1 L1178.6,719.0 L1180.1,719.0 L1181.6,718.9 L1183.1,718.9 L1184.6,718.8 L1186.1,718.8 L1187.6,718.7 L1189.1,718.7 L1190.6,718.6 L1192.1,718.6 L1193.6,718.6 L1195.1,718.5 L1196.6,718.5 L1198.1,718.5 L1199.6,718.4 L1201.1,718.4 L1202.6,718.4 L1204.1,718.4 L1205.6,718.4 L1207.1,718.4 L1208.6,718.3 L1210.1,718.3 L1211.6,718.3 L1213.1,718.3 L1214.6,718.3 L1216.1,718.3 L1217.6,718.3 L1219.1,718.3 L1220.6,718.3 L1222.1,718.3 L1223.6,718.3 L1225.1,718.3 L1226.6,718.3 L1228.1,718.3 L1229.6,718.3 L1231.1,718.3 L1232.6,718.3 L1234.1,718.3 L1235.6,718.3 L1237.1,718.3 L1238.6,718.3 L1240.1,718.3 L1241.6,718.3 L1243.1,718.3 L1244.6,718.3 L1246.1,718.3 L1247.6,718.3 L1249.1,718.3 L1250.6,718.3 L1252.1,718.3 L1253.6,718.3 L1255.1,718.4 L1256.6,718.4 L1258.1,718.4 L1259.6,718.4 L1261.1,718.4 L1262.6,718.4 L1264.1,718.4 L1265.6,718.5 L1267.1,718.5 L1268.6,718.5 L1270.1,718.5 L1271.6,718.5 L1273.1,718.6 L1274.6,718.6 L1276.1,718.6 L1277.6,718.6 L1279.1,718.6 L1280.6,718.7 L1282.1,718.7 L1283.6,718.7 L1285.1,718.7 L1286.6,718.7 L1288.1,718.7 L1289.6,718.8 L1291.1,718.8 L1292.6,718.8 L1294.1,718.8 L1295.6,718.8 L1297.1,718.9 L1298.6,718.9 L1300.1,718.9 L1301.6,718.9 L1303.1,718.9 L1304.6,718.9 L1306.1,718.9 L1307.6,719.0 L1309.1,719.0 L1310.6,719.0 L1312.1,719.0 L1313.6,719.0 L1315.1,719.0 L1316.6,719.0 L1318.1,719.0 L1319.6,719.0 L1321.1,719.0 L1322.6,719.0 L1324.1,719.0 L1325.6,719.0 L1327.1,719.0 L1328.6,719.0 L1330.1,719.0 L1331.6,719.0 L1333.1,719.0 L1334.6,719.0 L1336.1,719.0 L1337.6,719.0 L1339.1,719.0 L1340.6,719.0 L1342.1,719.0 L1343.6,719.0 L1345.1,719.0 L1346.6,719.0 L1348.1,719.0 L1349.6,719.0 L1351.1,719.1 L1352.6,719.1 L1354.1,719.1 L1355.6,719.1 L1357.1,719.1 L1358.6,719.1 L1360.1,719.1 L1361.6,719.2 L1363.1,719.2 L1364.6,719.2 L1366.1,719.2 L1367.6,719.3 L1369.1,719.3 L1370.6,719.3 L1372.1,719.4 L1373.6,719.4 L1375.1,719.5 L1376.6,719.5 L1378.1,719.6 L1379.6,719.6 L1381.1,719.7 L1382.6,719.7 L1384.1,719.8 L1385.6,719.9 L1387.1,719.9 L1388.6,720.0 L1390.1,720.1 L1391.6,720.2 L1393.1,720.3 L1394.6,720.4 L1396.1,720.5 L1397.6,720.6 L1399.1,720.7 L1400.6,720.8 L1402.1,720.9 L1403.6,721.0 L1405.1,721.1 L1406.6,721.2 L1408.1,721.3 L1409.6,721.5 L1411.1,721.6 L1412.6,721.7 L1414.0,721.9 L1415.5,722.0 L1417.0,722.2 L1418.5,722.3 L1420.0,722.4 L1421.5,722.6 L1423.0,722.8 L1424.5,722.9 L1426.0,723.1 L1427.5,723.2 L1429.0,723.4 L1430.5,723.6 L1431.9,723.8 L1433.4,723.9 L1434.9,724.1 L1436.4,724.3 L1437.9,724.4 L1439.4,724.6 L1440.9,724.8 L1442.5,725.0 L1444.1,725.1 L1445.7,725.3 L1447.2,725.5 L1448.8,725.6 L1450.4,725.8 L1451.9,725.9 L1453.5,726.1 L1455.1,726.2 L1456.7,726.4 L1458.3,726.5 L1459.8,726.7 L1461.4,726.8 L1463.0,726.9 L1464.6,727.0 L1466.1,727.1 L1467.7,727.2 L1469.3,727.3 L1470.9,727.4 L1472.5,727.5 L1474.0,727.6 L1475.6,727.6 L1477.2,727.6 L1478.8,727.7 L1480.4,727.7 L1482.0,727.7 L1483.5,727.7 L1485.0,727.7 L1486.5,727.6 L1488.0,727.6 L1489.5,727.5 L1491.0,727.4 L1492.5,727.3 L1494.0,727.2 L1495.5,727.1 L1497.0,727.0 L1498.5,726.8 L1499.9,726.6 L1501.4,726.4 L1502.9,726.2 L1504.4,726.0 L1505.9,725.7 L1507.4,725.4 L1508.8,725.1 L1510.3,724.8 L1511.8,724.5 L1513.2,724.2 L1514.7,723.8 L1516.1,723.4 L1517.6,723.0 L1519.0,722.6 L1520.5,722.1 L1521.9,721.7 L1523.3,721.2 L1524.7,720.7 L1526.2,720.3 L1527.6,719.7 L1529.0,719.2 L1530.4,718.7 L1531.8,718.1 L1533.2,717.6 L1534.6,717.0 L1535.9,716.5 L1537.3,715.9 L1538.7,715.3 L1540.1,714.8 L1541.5,714.2 L1542.9,713.6 L1544.3,713.0 L1545.7,712.4 L1547.0,711.9 L1548.4,711.3 L1549.8,710.7 L1551.2,710.2 L1552.6,709.6 L1554.0,709.1 L1555.4,708.6 L1556.8,708.1 L1558.3,707.6 L1559.7,707.1 L1561.1,706.6 L1562.5,706.1 L1564.0,705.7 L1565.4,705.3 L1566.8,704.8 L1568.3,704.5 L1569.7,704.1 L1571.2,703.7 L1572.7,703.4 L1574.2,703.1 L1575.6,702.9 L1577.1,702.6 L1578.6,702.4 L1580.1,702.2 L1581.6,702.0 L1583.1,701.9 L1584.6,701.8 L1586.1,701.7 L1587.6,701.7 L1589.1,701.7 L1590.6,701.7 L1592.1,701.8 L1593.6,701.8 L1595.1,702.0 L1596.6,702.1 L1598.1,702.3 L1599.6,702.5 L1601.1,702.8 L1602.6,703.0 L1604.0,703.3 L1605.5,703.7 L1607.0,704.0 L1608.4,704.4 L1609.9,704.8 L1611.3,705.2 L1612.8,705.7 L1614.2,706.1 L1615.6,706.6 L1617.0,707.1 L1618.4,707.6 L1619.8,708.2 L1621.2,708.7 L1622.6,709.3 L1624.0,709.8 L1625.4,710.4 L1626.8,711.0 L1628.2,711.6 L1629.5,712.2 L1630.9,712.8 L1632.3,713.4 L1633.7,714.0 L1635.0,714.5 L1636.4,715.1 L1637.8,715.7 L1639.2,716.3 L1640.6,716.9 L1642.0,717.5 L1643.4,718.0 L1644.7,718.6 L1646.1,719.1 L1647.5,719.7 L1648.9,720.2 L1650.3,720.8 L1651.7,721.3 L1653.1,721.8 L1654.5,722.4 L1656.0,722.9 L1657.4,723.4 L1658.8,723.9 L1660.2,724.4 L1661.6,724.9 L1663.0,725.4 L1664.5,725.9 L1665.9,726.4 L1667.3,726.8 L1668.8,727.3 L1670.2,727.7 L1671.6,728.2 L1673.1,728.6 L1674.5,729.0 L1676.0,729.4 L1677.5,729.8 L1679.0,730.2 L1680.4,730.6 L1681.9,730.9 L1683.4,731.3 L1684.9,731.6 L1686.4,731.9 L1687.9,732.2 L1689.4,732.5 L1690.9,732.7 L1692.4,732.9 L1693.9,733.1 L1695.4,733.2 L1696.9,733.3 L1698.4,733.3 L1699.9,733.3 L1701.4,733.2 L1702.9,733.1 L1704.4,732.9 L1705.9,732.7 L1707.4,732.5 L1708.8,732.2 L1710.3,731.9 L1711.8,731.5 L1713.3,731.1 L1714.8,730.8 L1716.3,730.4 L1717.8,730.0 L1719.2,729.5 L1720.7,729.1 L1722.2,728.7 L1723.7,728.3 L1725.1,727.8 L1726.6,727.4 L1728.1,727.0 L1729.5,726.5 L1731.0,726.1 L1732.4,725.7 L1733.9,725.2 L1735.4,724.8 L1736.8,724.4 L1738.3,724.0 L1739.7,723.6 L1741.2,723.2 L1742.6,722.8 L1744.1,722.4 L1745.6,722.1 L1747.0,721.7 L1748.5,721.4 L1749.9,721.1 L1751.4,720.8 L1752.9,720.5 L1754.4,720.3 L1755.9,720.1 L1757.3,719.9 L1758.8,719.7 L1760.3,719.5 L1761.8,719.3 L1763.3,719.2 L1764.8,719.1 L1766.3,718.9 L1767.8,718.8 L1769.3,718.7 L1770.8,718.7 L1772.3,718.6 L1773.8,718.5 L1775.3,718.5 L1776.8,718.5 L1778.3,718.4 L1779.7,718.4 L1781.1,718.4 L1782.5,718.4 L1783.9,718.4 L1785.3,718.4 L1786.7,718.4 L1788.0,718.4 L1789.4,718.4 L1790.8,718.4 L1792.2,718.5 L1793.6,718.5 L1795.0,718.5 L1796.4,718.6 L1797.8,718.6 L1799.2,718.6 L1800.5,718.7 L1801.9,718.7 L1803.3,718.8 L1804.7,718.8 L1806.1,718.9 L1807.6,718.9 L1809.1,718.9 L1810.6,719.0 L1812.1,719.0 L1813.6,719.1 L1815.1,719.2 L1816.6,719.2 L1818.1,719.3 L1819.6,719.3 L1821.1,719.4 L1822.6,719.4 L1824.1,719.5 L1825.6,719.5 L1827.1,719.6 L1828.6,719.6 L1830.1,719.7 L1831.6,719.7 L1833.1,719.7 L1834.6,719.8 L1836.1,719.8 L1837.6,719.9 L1839.1,719.9 L1840.6,719.9 L1842.1,720.0 L1843.6,720.0 L1845.1,720.0 L1846.6,720.1 L1848.1,720.1 L1849.6,720.1 L1851.1,720.2 L1852.6,720.2 L1854.1,720.2 L1855.6,720.2 L1857.1,720.2 L1858.6,720.3 L1860.1,720.3 L1861.6,720.3 L1863.1,720.3 L1864.6,720.3 L1866.1,720.4 L1867.6,720.4 L1869.1,720.4 L1870.6,720.4 L1872.1,720.4 L1873.6,720.4 L1875.1,720.4 L1876.6,720.4 L1878.1,720.4 L1879.6,720.4 L1881.1,720.5 L1882.6,720.5 L1884.1,720.5 L1885.6,720.5 L1887.1,720.5 L1888.6,720.5 L1890.1,720.5 L1891.6,720.5 L1893.1,720.5 L1894.6,720.5 L1896.1,720.5 L1897.6,720.5 L1899.1,720.5 L1900.6,720.5 L1902.1,720.5 L1903.6,720.5 L1905.1,720.5 L1906.6,720.5 L1908.1,720.5 L1909.6,720.5 L1911.1,720.5 L1912.6,720.5 L1914.1,720.5 L1915.6,720.5 L1917.1,720.5 L1918.6,720.5 L1920.1,720.5 L1921.6,720.5 L1923.1,720.5 L1924.6,720.5 L1926.1,720.5 L1927.6,720.5 L1929.1,720.5 L1930.6,720.5 L1932.1,720.5 L1933.6,720.6 L1935.1,720.6 L1936.6,720.6 L1938.1,720.6 L1939.6,720.6 L1941.1,720.6 L1942.6,720.6 L1944.1,720.6 L1945.6,720.6 L1947.1,720.6 L1948.6,720.7 L1950.1,720.7 L1951.6,720.7 L1953.1,720.7 L1954.6,720.7 L1956.1,720.7 L1957.6,720.8 L1959.1,720.8 L1960.6,720.8 L1960.6,720.8" stroke="#fa2314" stroke-dasharray="57.9 41.65"/>
</g>
<g fill="none" stroke="#000" stroke-width="5.2">
<circle cx="259.4" cy="719.5" r="14.7"/>
<circle cx="327.5" cy="719.5" r="14.7"/>
<circle cx="395.6" cy="550.7" r="14.7"/>
<circle cx="429.5" cy="226.6" r="14.7"/>
<circle cx="463.6" cy="50.9" r="14.7"/>
<circle cx="497.9" cy="380.8" r="14.7"/>
<circle cx="532.5" cy="1033.2" r="14.7"/>
<circle cx="566.5" cy="1359.7" r="14.7"/>
<circle cx="600.3" cy="1093.4" r="14.7"/>
<circle cx="633.9" cy="659.1" r="14.7"/>
<circle cx="668.2" cy="502.0" r="14.7"/>
<circle cx="702.2" cy="598.7" r="14.7"/>
<circle cx="770.8" cy="702.9" r="14.7"/>
<circle cx="838.7" cy="694.2" r="14.7"/>
<circle cx="906.8" cy="704.9" r="14.7"/>
<circle cx="974.6" cy="707.9" r="14.7"/>
<circle cx="1042.9" cy="722.8" r="14.7"/>
<circle cx="1111.3" cy="725.3" r="14.7"/>
<circle cx="1179.7" cy="719.0" r="14.7"/>
<circle cx="1248.2" cy="718.5" r="14.7"/>
<circle cx="1316.0" cy="719.0" r="14.7"/>
<circle cx="1384.1" cy="719.8" r="14.7"/>
<circle cx="1451.9" cy="725.3" r="14.7"/>
<circle cx="1520.5" cy="721.5" r="14.7"/>
<circle cx="1588.5" cy="703.6" r="14.7"/>
<circle cx="1656.9" cy="722.8" r="14.7"/>
<circle cx="1725.0" cy="727.0" r="14.7"/>
<circle cx="1792.8" cy="719.0" r="14.7"/>
<circle cx="1861.2" cy="720.3" r="14.7"/>
<circle cx="1929.5" cy="719.8" r="14.7"/>
</g>
<rect x="1364.2" y="637.5" width="451.0" height="148.60000000000002" fill="none" stroke="#231815" stroke-width="3.5"/>
<line x1="1573.7" y1="794.8" x2="1344.6" y2="993.7" stroke="#231815" stroke-width="3"/>
<polygon points="1317.4,1017.3 1341.0,981.9 1355.8,999.0" fill="#231815"/>
<rect x="781.8" y="1017.8" width="1038.7" height="243.0" fill="#fff" stroke="#333" stroke-width="2"/>
<g fill="none" stroke-width="10.6">
<path d="M781.6,1136.6 L783.6,1136.6 L785.6,1136.6 L787.6,1136.6 L789.6,1136.6 L791.6,1136.6 L793.6,1136.6 L795.6,1136.6 L797.6,1136.6 L799.6,1136.6 L801.6,1136.6 L803.6,1136.6 L805.6,1136.6 L807.6,1136.6 L809.6,1136.6 L811.6,1136.6 L813.6,1136.6 L815.6,1136.6 L817.6,1136.6 L819.6,1136.6 L821.6,1136.6 L823.6,1136.7 L825.6,1136.7 L827.6,1136.7 L829.6,1136.8 L831.6,1136.8 L833.6,1136.8 L835.6,1136.9 L837.6,1136.9 L839.6,1137.0 L841.6,1137.0 L843.6,1137.1 L845.6,1137.2 L847.6,1137.2 L849.6,1137.3 L851.6,1137.4 L853.6,1137.5 L855.6,1137.6 L857.6,1137.7 L859.6,1137.8 L861.6,1137.9 L863.6,1138.1 L865.6,1138.2 L867.6,1138.3 L869.6,1138.5 L871.6,1138.6 L873.6,1138.7 L875.6,1138.9 L877.6,1139.0 L879.6,1139.2 L881.6,1139.3 L883.6,1139.5 L885.6,1139.6 L887.6,1139.8 L889.6,1139.9 L891.6,1140.1 L893.6,1140.2 L895.6,1140.4 L897.6,1140.5 L899.6,1140.6 L901.6,1140.8 L903.6,1140.9 L905.6,1141.1 L907.6,1141.2 L909.6,1141.3 L911.6,1141.5 L913.6,1141.6 L915.6,1141.8 L917.6,1141.9 L919.6,1142.1 L921.6,1142.3 L923.6,1142.4 L925.6,1142.6 L927.6,1142.8 L929.6,1143.0 L931.6,1143.2 L933.6,1143.4 L935.6,1143.6 L937.6,1143.8 L939.6,1144.1 L941.6,1144.3 L943.6,1144.6 L945.6,1144.8 L947.6,1145.1 L949.6,1145.4 L951.6,1145.7 L953.6,1146.0 L955.6,1146.3 L957.6,1146.6 L959.6,1146.9 L961.6,1147.3 L963.6,1147.6 L965.6,1148.0 L967.6,1148.3 L969.6,1148.7 L971.6,1149.1 L973.6,1149.4 L975.6,1149.8 L977.6,1150.2 L979.6,1150.6 L981.6,1151.0 L983.6,1151.4 L985.6,1151.8 L987.6,1152.2 L989.6,1152.7 L991.6,1153.1 L993.6,1153.5 L995.6,1153.9 L997.6,1154.3 L999.6,1154.7 L1001.6,1155.1 L1003.6,1155.6 L1005.6,1156.0 L1007.6,1156.4 L1009.6,1156.8 L1011.6,1157.2 L1013.6,1157.6 L1015.6,1158.0 L1017.6,1158.5 L1019.6,1158.9 L1021.6,1159.3 L1023.6,1159.7 L1025.6,1160.1 L1027.6,1160.5 L1029.6,1160.9 L1031.6,1161.3 L1033.6,1161.7 L1035.6,1162.1 L1037.6,1162.5 L1039.6,1162.9 L1041.6,1163.2 L1043.6,1163.6 L1045.6,1164.0 L1047.6,1164.3 L1049.6,1164.6 L1051.6,1165.0 L1053.6,1165.3 L1055.6,1165.6 L1057.6,1165.8 L1059.6,1166.1 L1061.6,1166.3 L1063.6,1166.5 L1065.6,1166.7 L1067.6,1166.9 L1069.6,1167.0 L1071.6,1167.1 L1073.6,1167.3 L1075.6,1167.4 L1077.6,1167.4 L1079.6,1167.5 L1081.6,1167.6 L1083.6,1167.6 L1085.6,1167.6 L1087.6,1167.6 L1089.6,1167.6 L1091.6,1167.6 L1093.6,1167.5 L1095.6,1167.5 L1097.6,1167.4 L1099.6,1167.3 L1101.6,1167.1 L1103.6,1167.0 L1105.6,1166.8 L1107.6,1166.5 L1109.6,1166.3 L1111.6,1166.0 L1113.6,1165.7 L1115.6,1165.4 L1117.6,1165.0 L1119.6,1164.6 L1121.6,1164.2 L1123.6,1163.8 L1125.6,1163.3 L1127.6,1162.8 L1129.6,1162.3 L1131.6,1161.7 L1133.6,1161.2 L1135.6,1160.6 L1137.6,1160.0 L1139.6,1159.3 L1141.6,1158.7 L1143.6,1158.0 L1145.6,1157.3 L1147.6,1156.6 L1149.6,1155.8 L1151.6,1155.1 L1153.6,1154.3 L1155.6,1153.5 L1157.6,1152.7 L1159.6,1151.9 L1161.6,1151.0 L1163.6,1150.2 L1165.6,1149.3 L1167.6,1148.4 L1169.6,1147.4 L1171.6,1146.4 L1173.6,1145.4 L1175.6,1144.4 L1177.6,1143.3 L1179.6,1142.1 L1181.6,1141.0 L1183.6,1139.8 L1185.6,1138.5 L1187.6,1137.2 L1189.6,1135.9 L1191.6,1134.6 L1193.6,1133.3 L1195.6,1132.0 L1197.6,1130.6 L1199.6,1129.3 L1201.6,1127.9 L1203.6,1126.6 L1205.6,1125.2 L1207.6,1123.9 L1209.6,1122.6 L1211.6,1121.3 L1213.6,1120.0 L1215.6,1118.7 L1217.6,1117.4 L1219.6,1116.1 L1221.6,1114.8 L1223.6,1113.6 L1225.6,1112.3 L1227.6,1111.0 L1229.6,1109.7 L1231.6,1108.4 L1233.6,1107.1 L1235.6,1105.8 L1237.6,1104.4 L1239.6,1103.1 L1241.6,1101.8 L1243.6,1100.5 L1245.6,1099.2 L1247.6,1097.9 L1249.6,1096.7 L1251.6,1095.5 L1253.6,1094.3 L1255.6,1093.2 L1257.6,1092.0 L1259.6,1091.0 L1261.6,1089.9 L1263.6,1088.9 L1265.6,1087.9 L1267.6,1086.9 L1269.6,1086.0 L1271.6,1085.1 L1273.6,1084.2 L1275.6,1083.3 L1277.6,1082.5 L1279.6,1081.7 L1281.6,1080.9 L1283.6,1080.2 L1285.6,1079.5 L1287.6,1078.9 L1289.6,1078.3 L1291.6,1077.7 L1293.6,1077.2 L1295.6,1076.7 L1297.6,1076.2 L1299.6,1075.8 L1301.6,1075.5 L1303.6,1075.2 L1305.6,1074.9 L1307.6,1074.7 L1309.6,1074.6 L1311.6,1074.5 L1313.6,1074.4 L1315.6,1074.4 L1317.6,1074.4 L1319.6,1074.5 L1321.6,1074.6 L1323.6,1074.8 L1325.6,1075.0 L1327.6,1075.3 L1329.6,1075.6 L1331.6,1076.0 L1333.6,1076.4 L1335.6,1076.8 L1337.6,1077.3 L1339.6,1077.8 L1341.6,1078.3 L1343.6,1078.9 L1345.6,1079.5 L1347.6,1080.2 L1349.6,1080.9 L1351.6,1081.7 L1353.6,1082.4 L1355.6,1083.3 L1357.6,1084.1 L1359.6,1085.0 L1361.6,1085.9 L1363.6,1086.9 L1365.6,1087.9 L1367.6,1088.9 L1369.6,1090.0 L1371.6,1091.0 L1373.6,1092.2 L1375.6,1093.3 L1377.6,1094.5 L1379.6,1095.7 L1381.6,1096.9 L1383.6,1098.2 L1385.6,1099.5 L1387.6,1100.8 L1389.6,1102.2 L1391.6,1103.5 L1393.6,1104.9 L1395.6,1106.3 L1397.6,1107.8 L1399.6,1109.3 L1401.6,1110.7 L1403.6,1112.2 L1405.6,1113.7 L1407.6,1115.3 L1409.6,1116.8 L1411.6,1118.4 L1413.6,1120.0 L1415.6,1121.6 L1417.6,1123.2 L1419.6,1124.8 L1421.6,1126.4 L1423.6,1128.0 L1425.6,1129.6 L1427.6,1131.3 L1429.6,1132.9 L1431.6,1134.5 L1433.6,1136.1 L1435.6,1137.7 L1437.6,1139.3 L1439.6,1140.9 L1441.6,1142.4 L1443.6,1143.9 L1445.6,1145.4 L1447.6,1146.8 L1449.6,1148.2 L1451.6,1149.5 L1453.6,1150.8 L1455.6,1152.1 L1457.6,1153.4 L1459.6,1154.5 L1461.6,1155.7 L1463.6,1156.8 L1465.6,1157.9 L1467.6,1158.9 L1469.6,1160.0 L1471.6,1160.9 L1473.6,1161.9 L1475.6,1162.8 L1477.6,1163.6 L1479.6,1164.5 L1481.6,1165.3 L1483.6,1166.1 L1485.6,1166.8 L1487.6,1167.5 L1489.6,1168.2 L1491.6,1168.8 L1493.6,1169.4 L1495.6,1170.0 L1497.6,1170.5 L1499.6,1171.0 L1501.6,1171.5 L1503.6,1171.9 L1505.6,1172.3 L1507.6,1172.7 L1509.6,1173.1 L1511.6,1173.4 L1513.6,1173.7 L1515.6,1174.0 L1517.6,1174.3 L1519.6,1174.5 L1521.6,1174.7 L1523.6,1174.9 L1525.6,1175.1 L1527.6,1175.2 L1529.6,1175.4 L1531.6,1175.5 L1533.6,1175.6 L1535.6,1175.6 L1537.6,1175.6 L1539.6,1175.6 L1541.6,1175.6 L1543.6,1175.5 L1545.6,1175.3 L1547.6,1175.2 L1549.6,1175.0 L1551.6,1174.7 L1553.6,1174.5 L1555.6,1174.2 L1557.6,1173.8 L1559.6,1173.5 L1561.6,1173.1 L1563.6,1172.6 L1565.6,1172.2 L1567.6,1171.7 L1569.6,1171.3 L1571.6,1170.7 L1573.6,1170.2 L1575.6,1169.7 L1577.6,1169.1 L1579.6,1168.5 L1581.6,1167.9 L1583.6,1167.4 L1585.6,1166.8 L1587.6,1166.1 L1589.6,1165.5 L1591.6,1164.9 L1593.6,1164.3 L1595.6,1163.7 L1597.6,1163.1 L1599.6,1162.5 L1601.6,1161.9 L1603.6,1161.3 L1605.6,1160.7 L1607.6,1160.1 L1609.6,1159.5 L1611.6,1158.9 L1613.6,1158.3 L1615.6,1157.7 L1617.6,1157.1 L1619.6,1156.5 L1621.6,1155.9 L1623.6,1155.2 L1625.6,1154.6 L1627.6,1154.0 L1629.6,1153.3 L1631.6,1152.7 L1633.6,1152.0 L1635.6,1151.4 L1637.6,1150.8 L1639.6,1150.2 L1641.6,1149.6 L1643.6,1149.0 L1645.6,1148.5 L1647.6,1147.9 L1649.6,1147.4 L1651.6,1146.9 L1653.6,1146.5 L1655.6,1146.1 L1657.6,1145.7 L1659.6,1145.3 L1661.6,1144.9 L1663.6,1144.5 L1665.6,1144.2 L1667.6,1143.8 L1669.6,1143.5 L1671.6,1143.1 L1673.6,1142.8 L1675.6,1142.4 L1677.6,1142.1 L1679.6,1141.7 L1681.6,1141.4 L1683.6,1141.0 L1685.6,1140.7 L1687.6,1140.4 L1689.6,1140.1 L1691.6,1139.8 L1693.6,1139.5 L1695.6,1139.3 L1697.6,1139.1 L1699.6,1138.9 L1701.6,1138.7 L1703.6,1138.5 L1705.6,1138.4 L1707.6,1138.3 L1709.6,1138.2 L1711.6,1138.1 L1713.6,1138.0 L1715.6,1138.0 L1717.6,1137.9 L1719.6,1137.9 L1721.6,1137.8 L1723.6,1137.8 L1725.6,1137.7 L1727.6,1137.7 L1729.6,1137.7 L1731.6,1137.6 L1733.6,1137.6 L1735.6,1137.6 L1737.6,1137.6 L1739.6,1137.6 L1741.6,1137.6 L1743.6,1137.7 L1745.6,1137.7 L1747.6,1137.8 L1749.6,1137.9 L1751.6,1138.0 L1753.6,1138.1 L1755.6,1138.3 L1757.6,1138.5 L1759.6,1138.6 L1761.6,1138.8 L1763.6,1139.0 L1765.6,1139.2 L1767.6,1139.4 L1769.6,1139.5 L1771.6,1139.7 L1773.6,1139.9 L1775.6,1140.0 L1777.6,1140.2 L1779.6,1140.3 L1781.6,1140.4 L1783.6,1140.5 L1785.6,1140.6 L1787.6,1140.7 L1789.6,1140.8 L1791.6,1140.8 L1793.6,1140.9 L1795.6,1141.0 L1797.6,1141.0 L1799.6,1141.0 L1801.6,1141.1 L1803.6,1141.1 L1805.6,1141.1 L1807.6,1141.1 L1809.6,1141.1 L1811.6,1141.1 L1813.6,1141.1 L1815.6,1141.1 L1817.6,1141.0 L1819.6,1141.0 L1820.5,1141.0" stroke="#00428e"/>
<path d="M781.6,1136.6 L783.6,1136.6 L785.6,1136.6 L787.6,1136.6 L789.6,1136.6 L791.6,1136.6 L793.6,1136.6 L795.6,1136.6 L797.6,1136.6 L799.6,1136.6 L801.6,1136.6 L803.6,1136.6 L805.6,1136.6 L807.6,1136.6 L809.6,1136.6 L811.6,1136.6 L813.6,1136.6 L815.6,1136.6 L817.6,1136.6 L819.6,1136.6 L821.6,1136.6 L823.6,1136.7 L825.6,1136.7 L827.6,1136.7 L829.6,1136.8 L831.6,1136.8 L833.6,1136.8 L835.6,1136.9 L837.6,1136.9 L839.6,1137.0 L841.6,1137.0 L843.6,1137.1 L845.6,1137.2 L847.6,1137.2 L849.6,1137.3 L851.6,1137.4 L853.6,1137.5 L855.6,1137.6 L857.6,1137.7 L859.6,1137.8 L861.6,1137.9 L863.6,1138.1 L865.6,1138.2 L867.6,1138.3 L869.6,1138.5 L871.6,1138.6 L873.6,1138.7 L875.6,1138.9 L877.6,1139.0 L879.6,1139.2 L881.6,1139.3 L883.6,1139.5 L885.6,1139.6 L887.6,1139.8 L889.6,1139.9 L891.6,1140.1 L893.6,1140.2 L895.6,1140.4 L897.6,1140.5 L899.6,1140.6 L901.6,1140.8 L903.6,1140.9 L905.6,1141.1 L907.6,1141.2 L909.6,1141.3 L911.6,1141.5 L913.6,1141.6 L915.6,1141.8 L917.6,1141.9 L919.6,1142.1 L921.6,1142.3 L923.6,1142.4 L925.6,1142.6 L927.6,1142.8 L929.6,1143.0 L931.6,1143.2 L933.6,1143.4 L935.6,1143.6 L937.6,1143.8 L939.6,1144.1 L941.6,1144.3 L943.6,1144.6 L945.6,1144.8 L947.6,1145.1 L949.6,1145.4 L951.6,1145.7 L953.6,1146.0 L955.6,1146.3 L957.6,1146.6 L959.6,1146.9 L961.6,1147.3 L963.6,1147.6 L965.6,1148.0 L967.6,1148.3 L969.6,1148.7 L971.6,1149.1 L973.6,1149.4 L975.6,1149.8 L977.6,1150.2 L979.6,1150.6 L981.6,1151.0 L983.6,1151.4 L985.6,1151.8 L987.6,1152.2 L989.6,1152.7 L991.6,1153.1 L993.6,1153.5 L995.6,1153.9 L997.6,1154.3 L999.6,1154.7 L1001.6,1155.1 L1003.6,1155.6 L1005.6,1156.0 L1007.6,1156.4 L1009.6,1156.8 L1011.6,1157.2 L1013.6,1157.6 L1015.6,1158.0 L1017.6,1158.5 L1019.6,1158.9 L1021.6,1159.3 L1023.6,1159.7 L1025.6,1160.1 L1027.6,1160.5 L1029.6,1160.9 L1031.6,1161.3 L1033.6,1161.7 L1035.6,1162.1 L1037.6,1162.5 L1039.6,1162.9 L1041.6,1163.2 L1043.6,1163.6 L1045.6,1164.0 L1047.6,1164.3 L1049.6,1164.6 L1051.6,1165.0 L1053.6,1165.3 L1055.6,1165.6 L1057.6,1165.8 L1059.6,1166.1 L1061.6,1166.3 L1063.6,1166.5 L1065.6,1166.7 L1067.6,1166.9 L1069.6,1167.0 L1071.6,1167.1 L1073.6,1167.3 L1075.6,1167.4 L1077.6,1167.4 L1079.6,1167.5 L1081.6,1167.6 L1083.6,1167.6 L1085.6,1167.6 L1087.6,1167.6 L1089.6,1167.6 L1091.6,1167.6 L1093.6,1167.5 L1095.6,1167.5 L1097.6,1167.4 L1099.6,1167.3 L1101.6,1167.1 L1103.6,1167.0 L1105.6,1166.8 L1107.6,1166.6 L1109.6,1166.4 L1111.6,1166.1 L1113.6,1165.9 L1115.6,1165.6 L1117.6,1165.3 L1119.6,1164.9 L1121.6,1164.6 L1123.6,1164.2 L1125.6,1163.8 L1127.6,1163.4 L1129.6,1162.9 L1131.6,1162.5 L1133.6,1162.0 L1135.6,1161.5 L1137.6,1161.0 L1139.6,1160.4 L1141.6,1159.9 L1143.6,1159.3 L1145.6,1158.7 L1147.6,1158.0 L1149.6,1157.4 L1151.6,1156.8 L1153.6,1156.1 L1155.6,1155.4 L1157.6,1154.7 L1159.6,1154.0 L1161.6,1153.3 L1163.6,1152.5 L1165.6,1151.8 L1167.6,1151.0 L1169.6,1150.2 L1171.6,1149.4 L1173.6,1148.6 L1175.6,1147.7 L1177.6,1146.8 L1179.6,1145.9 L1181.6,1144.9 L1183.6,1143.8 L1185.6,1142.7 L1187.6,1141.6 L1189.6,1140.4 L1191.6,1139.1 L1193.6,1137.9 L1195.6,1136.6 L1197.6,1135.3 L1199.6,1134.0 L1201.6,1132.6 L1203.6,1131.3 L1205.6,1129.9 L1207.6,1128.6 L1209.6,1127.2 L1211.6,1125.9 L1213.6,1124.6 L1215.6,1123.2 L1217.6,1121.9 L1219.6,1120.6 L1221.6,1119.3 L1223.6,1118.0 L1225.6,1116.8 L1227.6,1115.5 L1229.6,1114.2 L1231.6,1112.9 L1233.6,1111.6 L1235.6,1110.3 L1237.6,1109.0 L1239.6,1107.7 L1241.6,1106.4 L1243.6,1105.1 L1245.6,1103.8 L1247.6,1102.4 L1249.6,1101.1 L1251.6,1099.8 L1253.6,1098.6 L1255.6,1097.3 L1257.6,1096.1 L1259.6,1094.9 L1261.6,1093.7 L1263.6,1092.6 L1265.6,1091.5 L1267.6,1090.4 L1269.6,1089.4 L1271.6,1088.4 L1273.6,1087.4 L1275.6,1086.4 L1277.6,1085.5 L1279.6,1084.6 L1281.6,1083.7 L1283.6,1082.9 L1285.6,1082.1 L1287.6,1081.3 L1289.6,1080.6 L1291.6,1079.9 L1293.6,1079.2 L1295.6,1078.6 L1297.6,1078.0 L1299.6,1077.4 L1301.6,1076.9 L1303.6,1076.5 L1305.6,1076.0 L1307.6,1075.7 L1309.6,1075.3 L1311.6,1075.1 L1313.6,1074.8 L1315.6,1074.7 L1317.6,1074.5 L1319.6,1074.4 L1321.6,1074.4 L1323.6,1074.4 L1325.6,1074.5 L1327.6,1074.6 L1329.6,1074.7 L1331.6,1074.9 L1333.6,1075.2 L1335.6,1075.4 L1337.6,1075.8 L1339.6,1076.1 L1341.6,1076.6 L1343.6,1077.0 L1345.6,1077.5 L1347.6,1078.0 L1349.6,1078.6 L1351.6,1079.2 L1353.6,1079.9 L1355.6,1080.6 L1357.6,1081.3 L1359.6,1082.1 L1361.6,1082.9 L1363.6,1083.7 L1365.6,1084.6 L1367.6,1085.5 L1369.6,1086.4 L1371.6,1087.4 L1373.6,1088.4 L1375.6,1089.4 L1377.6,1090.5 L1379.6,1091.6 L1381.6,1092.7 L1383.6,1093.9 L1385.6,1095.1 L1387.6,1096.3 L1389.6,1097.6 L1391.6,1098.9 L1393.6,1100.2 L1395.6,1101.5 L1397.6,1102.8 L1399.6,1104.2 L1401.6,1105.6 L1403.6,1107.1 L1405.6,1108.5 L1407.6,1110.0 L1409.6,1111.5 L1411.6,1113.0 L1413.6,1114.5 L1415.6,1116.1 L1417.6,1117.6 L1419.6,1119.2 L1421.6,1120.8 L1423.6,1122.4 L1425.6,1124.0 L1427.6,1125.6 L1429.6,1127.2 L1431.6,1128.8 L1433.6,1130.4 L1435.6,1132.1 L1437.6,1133.7 L1439.6,1135.3 L1441.6,1136.9 L1443.6,1138.5 L1445.6,1140.1 L1447.6,1141.6 L1449.6,1143.1 L1451.6,1144.6 L1453.6,1146.1 L1455.6,1147.5 L1457.6,1148.9 L1459.6,1150.2 L1461.6,1151.5 L1463.6,1152.8 L1465.6,1154.0 L1467.6,1155.2 L1469.6,1156.3 L1471.6,1157.4 L1473.6,1158.5 L1475.6,1159.6 L1477.6,1160.6 L1479.6,1161.6 L1481.6,1162.5 L1483.6,1163.4 L1485.6,1164.3 L1487.6,1165.2 L1489.6,1166.0 L1491.6,1166.8 L1493.6,1167.6 L1495.6,1168.3 L1497.6,1169.1 L1499.6,1169.8 L1501.6,1170.4 L1503.6,1171.1 L1505.6,1171.7 L1507.6,1172.3 L1509.6,1172.9 L1511.6,1173.5 L1513.6,1174.0 L1515.6,1174.5 L1517.6,1175.1 L1519.6,1175.5 L1521.6,1176.0 L1523.6,1176.5 L1525.6,1176.9 L1527.6,1177.4 L1529.6,1177.8 L1531.6,1178.2 L1533.6,1178.5 L1535.6,1178.9 L1537.6,1179.2 L1539.6,1179.5 L1541.6,1179.8 L1543.6,1180.0 L1545.6,1180.2 L1547.6,1180.3 L1549.6,1180.4 L1551.6,1180.4 L1553.6,1180.4 L1555.6,1180.3 L1557.6,1180.2 L1559.6,1180.0 L1561.6,1179.8 L1563.6,1179.5 L1565.6,1179.1 L1567.6,1178.7 L1569.6,1178.3 L1571.6,1177.8 L1573.6,1177.3 L1575.6,1176.7 L1577.6,1176.1 L1579.6,1175.4 L1581.6,1174.7 L1583.6,1174.0 L1585.6,1173.3 L1587.6,1172.5 L1589.6,1171.7 L1591.6,1170.9 L1593.6,1170.1 L1595.6,1169.3 L1597.6,1168.5 L1599.6,1167.6 L1601.6,1166.8 L1603.6,1166.0 L1605.6,1165.2 L1607.6,1164.4 L1609.6,1163.6 L1611.6,1162.8 L1613.6,1162.1 L1615.6,1161.3 L1617.6,1160.6 L1619.6,1159.8 L1621.6,1159.1 L1623.6,1158.4 L1625.6,1157.7 L1627.6,1157.0 L1629.6,1156.2 L1631.6,1155.5 L1633.6,1154.8 L1635.6,1154.1 L1637.6,1153.4 L1639.6,1152.7 L1641.6,1152.0 L1643.6,1151.4 L1645.6,1150.7 L1647.6,1150.1 L1649.6,1149.5 L1651.6,1148.9 L1653.6,1148.3 L1655.6,1147.8 L1657.6,1147.3 L1659.6,1146.8 L1661.6,1146.3 L1663.6,1145.9 L1665.6,1145.5 L1667.6,1145.1 L1669.6,1144.7 L1671.6,1144.3 L1673.6,1143.9 L1675.6,1143.6 L1677.6,1143.2 L1679.6,1142.8 L1681.6,1142.5 L1683.6,1142.1 L1685.6,1141.7 L1687.6,1141.4 L1689.6,1141.0 L1691.6,1140.6 L1693.6,1140.3 L1695.6,1139.9 L1697.6,1139.6 L1699.6,1139.3 L1701.6,1138.9 L1703.6,1138.7 L1705.6,1138.4 L1707.6,1138.1 L1709.6,1137.9 L1711.6,1137.7 L1713.6,1137.5 L1715.6,1137.4 L1717.6,1137.2 L1719.6,1137.1 L1721.6,1136.9 L1723.6,1136.8 L1725.6,1136.7 L1727.6,1136.6 L1729.6,1136.5 L1731.6,1136.4 L1733.6,1136.3 L1735.6,1136.3 L1737.6,1136.2 L1739.6,1136.1 L1741.6,1136.1 L1743.6,1136.1 L1745.6,1136.1 L1747.6,1136.1 L1749.6,1136.2 L1751.6,1136.3 L1753.6,1136.4 L1755.6,1136.5 L1757.6,1136.7 L1759.6,1136.9 L1761.6,1137.2 L1763.6,1137.4 L1765.6,1137.7 L1767.6,1137.9 L1769.6,1138.2 L1771.6,1138.5 L1773.6,1138.7 L1775.6,1139.0 L1777.6,1139.2 L1779.6,1139.4 L1781.6,1139.6 L1783.6,1139.8 L1785.6,1140.0 L1787.6,1140.1 L1789.6,1140.3 L1791.6,1140.4 L1793.6,1140.5 L1795.6,1140.6 L1797.6,1140.7 L1799.6,1140.8 L1801.6,1140.9 L1803.6,1140.9 L1805.6,1140.9 L1807.6,1141.0 L1809.6,1141.0 L1811.6,1141.0 L1813.6,1141.0 L1815.6,1141.0 L1817.6,1141.0 L1819.6,1141.0 L1820.5,1141.0" stroke="#fa2314" stroke-dasharray="57.8 41.5"/>
</g>
<g fill="none" stroke="#000" stroke-width="5.2">
<circle cx="815.9" cy="1137.3" r="14.8"/>
<circle cx="887.7" cy="1140.3" r="14.8"/>
<circle cx="960.0" cy="1147.0" r="14.8"/>
<circle cx="1032.1" cy="1159.4" r="14.8"/>
<circle cx="1104.4" cy="1164.5" r="14.8"/>
<circle cx="1176.4" cy="1146.0" r="14.8"/>
<circle cx="1248.4" cy="1107.5" r="14.8"/>
<circle cx="1320.4" cy="1081.4" r="14.8"/>
<circle cx="1392.7" cy="1101.8" r="14.8"/>
<circle cx="1464.7" cy="1149.7" r="14.8"/>
<circle cx="1537.0" cy="1177.1" r="14.8"/>
<circle cx="1609.2" cy="1165.9" r="14.8"/>
<circle cx="1681.3" cy="1143.3" r="14.8"/>
<circle cx="1753.4" cy="1137.1" r="14.8"/>
</g>
<rect x="1035.7" y="100.2" width="844.8999999999999" height="331.0" fill="#fff" stroke="#282524" stroke-width="3.5"/>
<line x1="1575.6" y1="164" x2="1830" y2="164" stroke="#00428e" stroke-width="10.6"/>
<line x1="1575.6" y1="266.2" x2="1832.3" y2="266.2" stroke="#fa2314" stroke-width="10.6" stroke-dasharray="57.8 41.5"/>
<circle cx="1697.2" cy="368.9" r="15" fill="none" stroke="#000" stroke-width="5"/>
<text transform="translate(1047.43875,186.2) scale(0.98,1)" font-size="75">Subgrid (<tspan class="it">R</tspan> = 3)</text>
<text transform="translate(1052.33875,288.4) scale(0.98,1)" font-size="75">Subgrid (<tspan class="it">R</tspan> = 4)</text>
<text transform="translate(1057.79,391.0) scale(0.9814,1)" font-size="75">Fine grid</text>
<text transform="translate(235.05,1488.5) scale(1.0000,1)" font-size="75">0</text>
<text transform="translate(575.42,1488.5) scale(0.9600,1)" font-size="75">5</text>
<text transform="translate(910.78,1488.5) scale(0.9478,1)" font-size="75">10</text>
<text transform="translate(1251.34,1488.5) scale(0.9230,1)" font-size="75">15</text>
<text transform="translate(1587.13,1488.5) scale(1.0274,1)" font-size="75">20</text>
<text transform="translate(1929.19,1488.5) scale(0.9821,1)" font-size="75">25</text>
<text transform="translate(183.10,69.9) scale(0.9000,1)" font-size="75">1</text>
<text transform="translate(139.20,405.2) scale(0.9609,1)" font-size="75">0.5</text>
<text transform="translate(184.25,741.3) scale(1.0000,1)" font-size="75">0</text>
<text transform="translate(124.11,1077.9) scale(0.9577,1)" font-size="75">-0.5</text>
<text transform="translate(167.48,1413.1) scale(0.8961,1)" font-size="75">-1</text>
<text transform="translate(975.42,1597.3) scale(0.9773,1)" font-size="75">Time (ns)</text>
<text transform="translate(86,1114.3175) rotate(-90) scale(1.03,1)" font-size="75">Electric Field <tspan class="it">E</tspan><tspan class="it" font-size="58" dy="5">z</tspan><tspan dy="-5"> (V/m)</tspan></text>
</svg></body></html>
